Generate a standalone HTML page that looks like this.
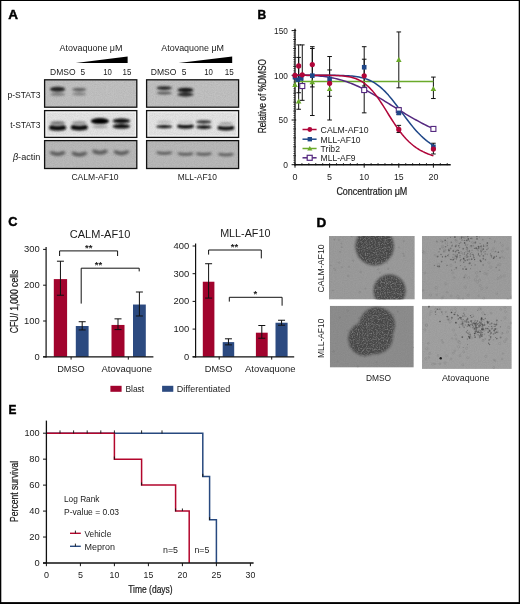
<!DOCTYPE html>
<html lang="en"><head><meta charset="utf-8"><title>Figure</title>
<style>html,body{margin:0;padding:0;background:#fff}body{width:520px;height:604px;overflow:hidden}svg{display:block}text{font-family:"Liberation Sans", sans-serif;}</style>
</head><body>
<svg width="520" height="604" viewBox="0 0 520 604" font-family='"Liberation Sans", sans-serif'>
<defs>
<filter id="b1" filterUnits="userSpaceOnUse" x="0" y="0" width="520" height="604"><feGaussianBlur stdDeviation="1.3 0.8"/></filter>
<filter id="b2" filterUnits="userSpaceOnUse" x="0" y="0" width="520" height="604"><feGaussianBlur stdDeviation="1.6 1.0"/></filter>
<filter id="col" x="-10%" y="-10%" width="120%" height="120%"><feGaussianBlur stdDeviation="1.1" result="bl"/><feTurbulence type="fractalNoise" baseFrequency="0.8" numOctaves="2" seed="11" result="n"/><feColorMatrix in="n" type="matrix" values="0 0 0 0 0.37  0 0 0 0 0.37  0 0 0 0 0.37  1.3 0 0 0 -0.66" result="sp"/><feComposite in="sp" in2="bl" operator="in" result="sp2"/><feColorMatrix in="n" type="matrix" values="0 0 0 0 0.2  0 0 0 0 0.2  0 0 0 0 0.2  0 -1.6 0 0 0.85" result="dk"/><feComposite in="dk" in2="bl" operator="in" result="dk2"/><feMerge><feMergeNode in="bl"/><feMergeNode in="sp2"/><feMergeNode in="dk2"/></feMerge></filter>
<filter id="db" x="-5%" y="-5%" width="110%" height="110%"><feGaussianBlur stdDeviation="0.45"/></filter>
<filter id="grain" x="0" y="0" width="100%" height="100%"><feTurbulence type="fractalNoise" baseFrequency="0.9" numOctaves="2" seed="3" result="n"/><feColorMatrix in="n" type="matrix" values="0 0 0 0 0  0 0 0 0 0  0 0 0 0 0  0.9 0.9 0.9 0 -1.05"/><feComposite in2="SourceGraphic" operator="in"/></filter>
</defs>
<rect x="0" y="0" width="520" height="604" fill="#fff"/>
<text x="8.20" y="19.30" font-size="13.5" font-weight="bold" fill="#000" stroke="#000" stroke-width="0.45">A</text>
<text x="257.40" y="18.50" font-size="13.5" textLength="8.70" lengthAdjust="spacingAndGlyphs" font-weight="bold" fill="#000" stroke="#000" stroke-width="0.45">B</text>
<text x="8.20" y="226.20" font-size="13.5" textLength="9.20" lengthAdjust="spacingAndGlyphs" font-weight="bold" fill="#000" stroke="#000" stroke-width="0.45">C</text>
<text x="316.40" y="226.50" font-size="13.5" font-weight="bold" fill="#000" stroke="#000" stroke-width="0.45">D</text>
<text x="8.60" y="413.60" font-size="13.5" textLength="7.90" lengthAdjust="spacingAndGlyphs" font-weight="bold" fill="#000" stroke="#000" stroke-width="0.45">E</text>
<rect x="44.60" y="79.80" width="92.20" height="27.40" fill="#c1c1c1"/>
<rect x="44.60" y="79.80" width="92.20" height="27.40" fill="#000" filter="url(#grain)" opacity="0.07"/>
<rect x="44.60" y="79.80" width="92.20" height="27.40" fill="none" stroke="#111" stroke-width="1.3"/>
<rect x="44.60" y="110.60" width="92.20" height="26.80" fill="#e4e4e4"/>
<rect x="44.60" y="110.60" width="92.20" height="26.80" fill="#000" filter="url(#grain)" opacity="0.07"/>
<rect x="45.90" y="111.90" width="89.60" height="24.20" fill="none" stroke="#f6f6f6" stroke-width="1.4" opacity="0.8"/>
<rect x="44.60" y="110.60" width="92.20" height="26.80" fill="none" stroke="#111" stroke-width="1.3"/>
<rect x="44.60" y="140.60" width="92.20" height="27.90" fill="#b9b9b9"/>
<rect x="44.60" y="140.60" width="92.20" height="27.90" fill="#000" filter="url(#grain)" opacity="0.07"/>
<rect x="44.60" y="140.60" width="92.20" height="27.90" fill="none" stroke="#111" stroke-width="1.3"/>
<g filter="url(#b1)">
<ellipse cx="57.60" cy="89.20" rx="7.60" ry="2.50" fill="#1a1a1a" fill-opacity="0.97"/>
<ellipse cx="57.60" cy="94.20" rx="7.50" ry="1.50" fill="#444" fill-opacity="0.6"/>
<ellipse cx="79.30" cy="89.60" rx="7.00" ry="1.80" fill="#333" fill-opacity="0.65"/>
<ellipse cx="79.30" cy="94.00" rx="7.00" ry="1.40" fill="#444" fill-opacity="0.5"/>
</g>
<g filter="url(#b1)">
<ellipse cx="57.60" cy="122.90" rx="7.50" ry="2.00" fill="#444" fill-opacity="0.65"/>
<path d="M51.50,127.60 Q57.60,129.00 63.70,127.60" fill="none" stroke="#0c0c0c" stroke-opacity="1" stroke-width="4.80" stroke-linecap="round"/>
<ellipse cx="79.30" cy="122.70" rx="7.50" ry="1.80" fill="#555" fill-opacity="0.55"/>
<path d="M73.20,127.40 Q79.30,128.80 85.40,127.40" fill="none" stroke="#0c0c0c" stroke-opacity="1" stroke-width="4.80" stroke-linecap="round"/>
<ellipse cx="99.90" cy="121.10" rx="9.20" ry="3.00" fill="#060606" fill-opacity="1"/>
<ellipse cx="99.90" cy="126.70" rx="8.00" ry="1.50" fill="#666" fill-opacity="0.55"/>
<ellipse cx="121.40" cy="120.90" rx="8.80" ry="2.30" fill="#0c0c0c" fill-opacity="1"/>
<ellipse cx="121.40" cy="126.30" rx="8.80" ry="2.30" fill="#0c0c0c" fill-opacity="1"/>
</g>
<g filter="url(#b2)">
<path d="M52.00,152.80 Q57.60,155.60 63.20,152.80" fill="none" stroke="#484848" stroke-opacity="0.78" stroke-width="4.00" stroke-linecap="round"/>
<path d="M73.70,153.40 Q79.30,156.20 84.90,153.40" fill="none" stroke="#484848" stroke-opacity="0.78" stroke-width="4.00" stroke-linecap="round"/>
<path d="M94.30,151.40 Q99.90,154.20 105.50,151.40" fill="none" stroke="#484848" stroke-opacity="0.78" stroke-width="4.00" stroke-linecap="round"/>
<path d="M115.80,152.00 Q121.40,154.80 127.00,152.00" fill="none" stroke="#484848" stroke-opacity="0.78" stroke-width="4.00" stroke-linecap="round"/>
</g>
<rect x="146.60" y="79.80" width="92.00" height="27.40" fill="#c1c1c1"/>
<rect x="146.60" y="79.80" width="92.00" height="27.40" fill="#000" filter="url(#grain)" opacity="0.07"/>
<rect x="146.60" y="79.80" width="92.00" height="27.40" fill="none" stroke="#111" stroke-width="1.3"/>
<rect x="146.60" y="110.60" width="92.00" height="26.80" fill="#e4e4e4"/>
<rect x="146.60" y="110.60" width="92.00" height="26.80" fill="#000" filter="url(#grain)" opacity="0.07"/>
<rect x="147.90" y="111.90" width="89.40" height="24.20" fill="none" stroke="#f6f6f6" stroke-width="1.4" opacity="0.8"/>
<rect x="146.60" y="110.60" width="92.00" height="26.80" fill="none" stroke="#111" stroke-width="1.3"/>
<rect x="146.60" y="140.60" width="92.00" height="27.90" fill="#b9b9b9"/>
<rect x="146.60" y="140.60" width="92.00" height="27.90" fill="#000" filter="url(#grain)" opacity="0.07"/>
<rect x="146.60" y="140.60" width="92.00" height="27.90" fill="none" stroke="#111" stroke-width="1.3"/>
<g filter="url(#b1)">
<ellipse cx="164.20" cy="88.10" rx="7.60" ry="1.80" fill="#1c1c1c" fill-opacity="0.95"/>
<ellipse cx="164.20" cy="93.10" rx="7.60" ry="1.40" fill="#333" fill-opacity="0.75"/>
<ellipse cx="185.50" cy="90.00" rx="8.20" ry="2.20" fill="#141414" fill-opacity="1"/>
<ellipse cx="185.50" cy="94.50" rx="8.00" ry="1.90" fill="#1a1a1a" fill-opacity="0.95"/>
</g>
<g filter="url(#b1)">
<ellipse cx="164.20" cy="121.90" rx="7.50" ry="1.40" fill="#888" fill-opacity="0.45"/>
<ellipse cx="164.20" cy="126.60" rx="8.00" ry="1.70" fill="#0c0c0c" fill-opacity="1"/>
<ellipse cx="185.50" cy="122.00" rx="7.50" ry="1.30" fill="#888" fill-opacity="0.35"/>
<path d="M179.10,126.30 Q185.50,127.50 191.90,126.30" fill="none" stroke="#0c0c0c" stroke-opacity="1" stroke-width="3.60" stroke-linecap="round"/>
<ellipse cx="203.80" cy="121.90" rx="7.60" ry="1.70" fill="#1c1c1c" fill-opacity="0.95"/>
<ellipse cx="203.80" cy="127.10" rx="7.80" ry="1.80" fill="#101010" fill-opacity="1"/>
<ellipse cx="225.90" cy="123.40" rx="7.00" ry="1.40" fill="#666" fill-opacity="0.55"/>
<path d="M219.40,127.80 Q225.90,129.20 232.40,127.80" fill="none" stroke="#0c0c0c" stroke-opacity="1" stroke-width="3.80" stroke-linecap="round"/>
</g>
<g filter="url(#b2)">
<path d="M158.20,152.70 Q164.20,154.10 170.20,152.70" fill="none" stroke="#484848" stroke-opacity="0.75" stroke-width="3.20" stroke-linecap="round"/>
<path d="M179.50,153.70 Q185.50,155.10 191.50,153.70" fill="none" stroke="#484848" stroke-opacity="0.75" stroke-width="3.20" stroke-linecap="round"/>
<path d="M197.80,153.70 Q203.80,155.10 209.80,153.70" fill="none" stroke="#484848" stroke-opacity="0.75" stroke-width="3.20" stroke-linecap="round"/>
<path d="M219.90,154.30 Q225.90,155.70 231.90,154.30" fill="none" stroke="#484848" stroke-opacity="0.75" stroke-width="3.20" stroke-linecap="round"/>
</g>
<text x="59.50" y="51.20" font-size="9.7" textLength="63.00" lengthAdjust="spacingAndGlyphs" fill="#1a1a1a" >Atovaquone &#956;M</text>
<text x="161.30" y="51.20" font-size="9.7" textLength="62.70" lengthAdjust="spacingAndGlyphs" fill="#1a1a1a" >Atovaquone &#956;M</text>
<polygon points="75.8,63.1 127.6,63.1 127.6,56.5" fill="#000"/>
<polygon points="178.6,63.1 232.2,63.1 232.2,56.5" fill="#000"/>
<text x="50.00" y="74.50" font-size="9.7" textLength="25.50" lengthAdjust="spacingAndGlyphs" fill="#1a1a1a" >DMSO</text>
<text x="80.50" y="74.50" font-size="9.7" textLength="4.60" lengthAdjust="spacingAndGlyphs" fill="#1a1a1a" >5</text>
<text x="103.20" y="74.50" font-size="9.7" textLength="8.60" lengthAdjust="spacingAndGlyphs" fill="#1a1a1a" >10</text>
<text x="122.50" y="74.50" font-size="9.7" textLength="8.80" lengthAdjust="spacingAndGlyphs" fill="#1a1a1a" >15</text>
<text x="150.70" y="74.50" font-size="9.7" textLength="25.70" lengthAdjust="spacingAndGlyphs" fill="#1a1a1a" >DMSO</text>
<text x="181.70" y="74.50" font-size="9.7" textLength="4.70" lengthAdjust="spacingAndGlyphs" fill="#1a1a1a" >5</text>
<text x="204.20" y="74.50" font-size="9.7" textLength="8.70" lengthAdjust="spacingAndGlyphs" fill="#1a1a1a" >10</text>
<text x="224.80" y="74.50" font-size="9.7" textLength="9.00" lengthAdjust="spacingAndGlyphs" fill="#1a1a1a" >15</text>
<text x="40.40" y="97.80" font-size="9.7" text-anchor="end" textLength="32.90" lengthAdjust="spacingAndGlyphs" fill="#1a1a1a" >p-STAT3</text>
<text x="40.40" y="128.00" font-size="9.7" text-anchor="end" textLength="30.20" lengthAdjust="spacingAndGlyphs" fill="#1a1a1a" >t-STAT3</text>
<text x="12.9" y="159.9" font-size="9.7" fill="#1a1a1a" textLength="27.5" lengthAdjust="spacingAndGlyphs"><tspan font-style="italic">&#946;</tspan>-actin</text>
<text x="71.40" y="180.00" font-size="9.7" textLength="47.10" lengthAdjust="spacingAndGlyphs" fill="#1a1a1a" >CALM-AF10</text>
<text x="177.70" y="179.60" font-size="9.7" textLength="39.20" lengthAdjust="spacingAndGlyphs" fill="#1a1a1a" >MLL-AF10</text>
<line x1="295.00" y1="28.81" x2="295.00" y2="165.40" stroke="#111" stroke-width="1.35" />
<line x1="294.30" y1="164.70" x2="450.70" y2="164.70" stroke="#111" stroke-width="1.4" />
<line x1="291.60" y1="164.70" x2="296.20" y2="164.70" stroke="#111" stroke-width="1" />
<line x1="293.40" y1="162.46" x2="295.00" y2="162.46" stroke="#111" stroke-width="0.7" />
<line x1="293.40" y1="160.23" x2="295.00" y2="160.23" stroke="#111" stroke-width="0.7" />
<line x1="293.40" y1="157.99" x2="295.00" y2="157.99" stroke="#111" stroke-width="0.7" />
<line x1="293.00" y1="155.76" x2="296.00" y2="155.76" stroke="#111" stroke-width="0.8" />
<line x1="293.40" y1="153.52" x2="295.00" y2="153.52" stroke="#111" stroke-width="0.7" />
<line x1="293.40" y1="151.29" x2="295.00" y2="151.29" stroke="#111" stroke-width="0.7" />
<line x1="293.40" y1="149.05" x2="295.00" y2="149.05" stroke="#111" stroke-width="0.7" />
<line x1="293.00" y1="146.82" x2="296.00" y2="146.82" stroke="#111" stroke-width="0.8" />
<line x1="293.40" y1="144.58" x2="295.00" y2="144.58" stroke="#111" stroke-width="0.7" />
<line x1="293.40" y1="142.35" x2="295.00" y2="142.35" stroke="#111" stroke-width="0.7" />
<line x1="293.40" y1="140.11" x2="295.00" y2="140.11" stroke="#111" stroke-width="0.7" />
<line x1="293.00" y1="137.88" x2="296.00" y2="137.88" stroke="#111" stroke-width="0.8" />
<line x1="293.40" y1="135.64" x2="295.00" y2="135.64" stroke="#111" stroke-width="0.7" />
<line x1="293.40" y1="133.41" x2="295.00" y2="133.41" stroke="#111" stroke-width="0.7" />
<line x1="293.40" y1="131.17" x2="295.00" y2="131.17" stroke="#111" stroke-width="0.7" />
<line x1="293.00" y1="128.94" x2="296.00" y2="128.94" stroke="#111" stroke-width="0.8" />
<line x1="293.40" y1="126.70" x2="295.00" y2="126.70" stroke="#111" stroke-width="0.7" />
<line x1="293.40" y1="124.47" x2="295.00" y2="124.47" stroke="#111" stroke-width="0.7" />
<line x1="293.40" y1="122.23" x2="295.00" y2="122.23" stroke="#111" stroke-width="0.7" />
<line x1="291.60" y1="120.00" x2="296.20" y2="120.00" stroke="#111" stroke-width="1" />
<line x1="293.40" y1="117.76" x2="295.00" y2="117.76" stroke="#111" stroke-width="0.7" />
<line x1="293.40" y1="115.53" x2="295.00" y2="115.53" stroke="#111" stroke-width="0.7" />
<line x1="293.40" y1="113.29" x2="295.00" y2="113.29" stroke="#111" stroke-width="0.7" />
<line x1="293.00" y1="111.06" x2="296.00" y2="111.06" stroke="#111" stroke-width="0.8" />
<line x1="293.40" y1="108.82" x2="295.00" y2="108.82" stroke="#111" stroke-width="0.7" />
<line x1="293.40" y1="106.59" x2="295.00" y2="106.59" stroke="#111" stroke-width="0.7" />
<line x1="293.40" y1="104.35" x2="295.00" y2="104.35" stroke="#111" stroke-width="0.7" />
<line x1="293.00" y1="102.12" x2="296.00" y2="102.12" stroke="#111" stroke-width="0.8" />
<line x1="293.40" y1="99.88" x2="295.00" y2="99.88" stroke="#111" stroke-width="0.7" />
<line x1="293.40" y1="97.65" x2="295.00" y2="97.65" stroke="#111" stroke-width="0.7" />
<line x1="293.40" y1="95.41" x2="295.00" y2="95.41" stroke="#111" stroke-width="0.7" />
<line x1="293.00" y1="93.18" x2="296.00" y2="93.18" stroke="#111" stroke-width="0.8" />
<line x1="293.40" y1="90.94" x2="295.00" y2="90.94" stroke="#111" stroke-width="0.7" />
<line x1="293.40" y1="88.71" x2="295.00" y2="88.71" stroke="#111" stroke-width="0.7" />
<line x1="293.40" y1="86.47" x2="295.00" y2="86.47" stroke="#111" stroke-width="0.7" />
<line x1="293.00" y1="84.24" x2="296.00" y2="84.24" stroke="#111" stroke-width="0.8" />
<line x1="293.40" y1="82.00" x2="295.00" y2="82.00" stroke="#111" stroke-width="0.7" />
<line x1="293.40" y1="79.77" x2="295.00" y2="79.77" stroke="#111" stroke-width="0.7" />
<line x1="293.40" y1="77.53" x2="295.00" y2="77.53" stroke="#111" stroke-width="0.7" />
<line x1="291.60" y1="75.30" x2="296.20" y2="75.30" stroke="#111" stroke-width="1" />
<line x1="293.40" y1="73.06" x2="295.00" y2="73.06" stroke="#111" stroke-width="0.7" />
<line x1="293.40" y1="70.83" x2="295.00" y2="70.83" stroke="#111" stroke-width="0.7" />
<line x1="293.40" y1="68.59" x2="295.00" y2="68.59" stroke="#111" stroke-width="0.7" />
<line x1="293.00" y1="66.36" x2="296.00" y2="66.36" stroke="#111" stroke-width="0.8" />
<line x1="293.40" y1="64.12" x2="295.00" y2="64.12" stroke="#111" stroke-width="0.7" />
<line x1="293.40" y1="61.89" x2="295.00" y2="61.89" stroke="#111" stroke-width="0.7" />
<line x1="293.40" y1="59.65" x2="295.00" y2="59.65" stroke="#111" stroke-width="0.7" />
<line x1="293.00" y1="57.42" x2="296.00" y2="57.42" stroke="#111" stroke-width="0.8" />
<line x1="293.40" y1="55.18" x2="295.00" y2="55.18" stroke="#111" stroke-width="0.7" />
<line x1="293.40" y1="52.95" x2="295.00" y2="52.95" stroke="#111" stroke-width="0.7" />
<line x1="293.40" y1="50.71" x2="295.00" y2="50.71" stroke="#111" stroke-width="0.7" />
<line x1="293.00" y1="48.48" x2="296.00" y2="48.48" stroke="#111" stroke-width="0.8" />
<line x1="293.40" y1="46.24" x2="295.00" y2="46.24" stroke="#111" stroke-width="0.7" />
<line x1="293.40" y1="44.01" x2="295.00" y2="44.01" stroke="#111" stroke-width="0.7" />
<line x1="293.40" y1="41.77" x2="295.00" y2="41.77" stroke="#111" stroke-width="0.7" />
<line x1="293.00" y1="39.54" x2="296.00" y2="39.54" stroke="#111" stroke-width="0.8" />
<line x1="293.40" y1="37.30" x2="295.00" y2="37.30" stroke="#111" stroke-width="0.7" />
<line x1="293.40" y1="35.07" x2="295.00" y2="35.07" stroke="#111" stroke-width="0.7" />
<line x1="293.40" y1="32.83" x2="295.00" y2="32.83" stroke="#111" stroke-width="0.7" />
<line x1="291.60" y1="30.60" x2="296.20" y2="30.60" stroke="#111" stroke-width="1" />
<line x1="295.00" y1="163.20" x2="295.00" y2="167.70" stroke="#111" stroke-width="1" />
<line x1="301.92" y1="163.10" x2="301.92" y2="165.20" stroke="#111" stroke-width="0.9" />
<line x1="308.84" y1="163.10" x2="308.84" y2="165.20" stroke="#111" stroke-width="0.9" />
<line x1="315.76" y1="163.10" x2="315.76" y2="165.20" stroke="#111" stroke-width="0.9" />
<line x1="322.68" y1="163.10" x2="322.68" y2="165.20" stroke="#111" stroke-width="0.9" />
<line x1="329.60" y1="163.20" x2="329.60" y2="167.70" stroke="#111" stroke-width="1" />
<line x1="336.52" y1="163.10" x2="336.52" y2="165.20" stroke="#111" stroke-width="0.9" />
<line x1="343.44" y1="163.10" x2="343.44" y2="165.20" stroke="#111" stroke-width="0.9" />
<line x1="350.36" y1="163.10" x2="350.36" y2="165.20" stroke="#111" stroke-width="0.9" />
<line x1="357.28" y1="163.10" x2="357.28" y2="165.20" stroke="#111" stroke-width="0.9" />
<line x1="364.20" y1="163.20" x2="364.20" y2="167.70" stroke="#111" stroke-width="1" />
<line x1="371.12" y1="163.10" x2="371.12" y2="165.20" stroke="#111" stroke-width="0.9" />
<line x1="378.04" y1="163.10" x2="378.04" y2="165.20" stroke="#111" stroke-width="0.9" />
<line x1="384.96" y1="163.10" x2="384.96" y2="165.20" stroke="#111" stroke-width="0.9" />
<line x1="391.88" y1="163.10" x2="391.88" y2="165.20" stroke="#111" stroke-width="0.9" />
<line x1="398.80" y1="163.20" x2="398.80" y2="167.70" stroke="#111" stroke-width="1" />
<line x1="405.72" y1="163.10" x2="405.72" y2="165.20" stroke="#111" stroke-width="0.9" />
<line x1="412.64" y1="163.10" x2="412.64" y2="165.20" stroke="#111" stroke-width="0.9" />
<line x1="419.56" y1="163.10" x2="419.56" y2="165.20" stroke="#111" stroke-width="0.9" />
<line x1="426.48" y1="163.10" x2="426.48" y2="165.20" stroke="#111" stroke-width="0.9" />
<line x1="433.40" y1="163.20" x2="433.40" y2="167.70" stroke="#111" stroke-width="1" />
<line x1="440.32" y1="163.10" x2="440.32" y2="165.20" stroke="#111" stroke-width="0.9" />
<line x1="447.24" y1="163.10" x2="447.24" y2="165.20" stroke="#111" stroke-width="0.9" />
<line x1="298.67" y1="92.73" x2="298.67" y2="57.42" stroke="#111" stroke-width="1" />
<line x1="296.37" y1="92.73" x2="300.97" y2="92.73" stroke="#111" stroke-width="1" />
<line x1="296.37" y1="57.42" x2="300.97" y2="57.42" stroke="#111" stroke-width="1" />
<line x1="298.67" y1="109.27" x2="298.67" y2="44.90" stroke="#111" stroke-width="1" />
<line x1="296.37" y1="109.27" x2="300.97" y2="109.27" stroke="#111" stroke-width="1" />
<line x1="296.37" y1="44.90" x2="300.97" y2="44.90" stroke="#111" stroke-width="1" />
<line x1="302.27" y1="100.33" x2="302.27" y2="44.90" stroke="#111" stroke-width="1" />
<line x1="299.97" y1="100.33" x2="304.57" y2="100.33" stroke="#111" stroke-width="1" />
<line x1="299.97" y1="44.90" x2="304.57" y2="44.90" stroke="#111" stroke-width="1" />
<line x1="312.30" y1="115.53" x2="312.30" y2="46.69" stroke="#111" stroke-width="1" />
<line x1="310.00" y1="115.53" x2="314.60" y2="115.53" stroke="#111" stroke-width="1" />
<line x1="310.00" y1="46.69" x2="314.60" y2="46.69" stroke="#111" stroke-width="1" />
<line x1="312.30" y1="86.92" x2="312.30" y2="48.48" stroke="#111" stroke-width="1" />
<line x1="310.00" y1="86.92" x2="314.60" y2="86.92" stroke="#111" stroke-width="1" />
<line x1="310.00" y1="48.48" x2="314.60" y2="48.48" stroke="#111" stroke-width="1" />
<line x1="329.60" y1="120.00" x2="329.60" y2="56.53" stroke="#111" stroke-width="1" />
<line x1="327.30" y1="120.00" x2="331.90" y2="120.00" stroke="#111" stroke-width="1" />
<line x1="327.30" y1="56.53" x2="331.90" y2="56.53" stroke="#111" stroke-width="1" />
<line x1="329.60" y1="96.31" x2="329.60" y2="69.94" stroke="#111" stroke-width="1" />
<line x1="327.30" y1="96.31" x2="331.90" y2="96.31" stroke="#111" stroke-width="1" />
<line x1="327.30" y1="69.94" x2="331.90" y2="69.94" stroke="#111" stroke-width="1" />
<line x1="364.20" y1="112.85" x2="364.20" y2="46.69" stroke="#111" stroke-width="1" />
<line x1="361.90" y1="112.85" x2="366.50" y2="112.85" stroke="#111" stroke-width="1" />
<line x1="361.90" y1="46.69" x2="366.50" y2="46.69" stroke="#111" stroke-width="1" />
<line x1="364.20" y1="86.03" x2="364.20" y2="59.21" stroke="#111" stroke-width="1" />
<line x1="361.90" y1="86.03" x2="366.50" y2="86.03" stroke="#111" stroke-width="1" />
<line x1="361.90" y1="59.21" x2="366.50" y2="59.21" stroke="#111" stroke-width="1" />
<line x1="398.80" y1="87.82" x2="398.80" y2="31.94" stroke="#111" stroke-width="1" />
<line x1="396.50" y1="87.82" x2="401.10" y2="87.82" stroke="#111" stroke-width="1" />
<line x1="396.50" y1="31.94" x2="401.10" y2="31.94" stroke="#111" stroke-width="1" />
<line x1="398.80" y1="132.52" x2="398.80" y2="125.36" stroke="#111" stroke-width="1" />
<line x1="396.50" y1="132.52" x2="401.10" y2="132.52" stroke="#111" stroke-width="1" />
<line x1="396.50" y1="125.36" x2="401.10" y2="125.36" stroke="#111" stroke-width="1" />
<line x1="398.80" y1="114.64" x2="398.80" y2="107.48" stroke="#111" stroke-width="1" />
<line x1="396.50" y1="114.64" x2="401.10" y2="114.64" stroke="#111" stroke-width="1" />
<line x1="396.50" y1="107.48" x2="401.10" y2="107.48" stroke="#111" stroke-width="1" />
<line x1="433.40" y1="98.54" x2="433.40" y2="77.09" stroke="#111" stroke-width="1" />
<line x1="431.10" y1="98.54" x2="435.70" y2="98.54" stroke="#111" stroke-width="1" />
<line x1="431.10" y1="77.09" x2="435.70" y2="77.09" stroke="#111" stroke-width="1" />
<line x1="433.40" y1="153.97" x2="433.40" y2="143.24" stroke="#111" stroke-width="1" />
<line x1="431.10" y1="153.97" x2="435.70" y2="153.97" stroke="#111" stroke-width="1" />
<line x1="431.10" y1="143.24" x2="435.70" y2="143.24" stroke="#111" stroke-width="1" />
<polyline points="295.00,81.56 296.73,81.56 298.46,81.56 300.19,81.56 301.92,81.56 303.65,81.56 305.38,81.56 307.11,81.56 308.84,81.56 310.57,81.56 312.30,81.56 314.03,81.56 315.76,81.56 317.49,81.56 319.22,81.56 320.95,81.56 322.68,81.56 324.41,81.56 326.14,81.56 327.87,81.56 329.60,81.56 331.33,81.56 333.06,81.56 334.79,81.56 336.52,81.56 338.25,81.56 339.98,81.56 341.71,81.56 343.44,81.56 345.17,81.56 346.90,81.56 348.63,81.56 350.36,81.56 352.09,81.56 353.82,81.56 355.55,81.56 357.28,81.56 359.01,81.56 360.74,81.56 362.47,81.56 364.20,81.56 365.93,81.56 367.66,81.56 369.39,81.56 371.12,81.56 372.85,81.56 374.58,81.56 376.31,81.56 378.04,81.56 379.77,81.56 381.50,81.56 383.23,81.56 384.96,81.56 386.69,81.56 388.42,81.56 390.15,81.56 391.88,81.56 393.61,81.56 395.34,81.56 397.07,81.56 398.80,81.56 400.53,81.56 402.26,81.56 403.99,81.56 405.72,81.56 407.45,81.56 409.18,81.56 410.91,81.56 412.64,81.56 414.37,81.56 416.10,81.56 417.83,81.56 419.56,81.56 421.29,81.56 423.02,81.56 424.75,81.56 426.48,81.56 428.21,81.56 429.94,81.56 431.67,81.56 433.40,81.56" fill="none" stroke="#6aaa2a" stroke-width="1.4" stroke-linejoin="round"/>
<polyline points="295.00,75.30 296.73,75.30 298.46,75.30 300.19,75.31 301.92,75.32 303.65,75.33 305.38,75.36 307.11,75.39 308.84,75.43 310.57,75.49 312.30,75.56 314.03,75.65 315.76,75.75 317.49,75.87 319.22,76.01 320.95,76.17 322.68,76.35 324.41,76.56 326.14,76.79 327.87,77.05 329.60,77.34 331.33,77.65 333.06,77.99 334.79,78.36 336.52,78.76 338.25,79.20 339.98,79.66 341.71,80.15 343.44,80.68 345.17,81.23 346.90,81.82 348.63,82.44 350.36,83.10 352.09,83.78 353.82,84.49 355.55,85.23 357.28,86.00 359.01,86.80 360.74,87.63 362.47,88.48 364.20,89.36 365.93,90.26 367.66,91.18 369.39,92.12 371.12,93.09 372.85,94.07 374.58,95.06 376.31,96.07 378.04,97.10 379.77,98.13 381.50,99.18 383.23,100.23 384.96,101.29 386.69,102.36 388.42,103.43 390.15,104.50 391.88,105.57 393.61,106.65 395.34,107.72 397.07,108.78 398.80,109.84 400.53,110.90 402.26,111.95 403.99,112.99 405.72,114.03 407.45,115.05 409.18,116.06 410.91,117.07 412.64,118.06 414.37,119.04 416.10,120.00 417.83,120.95 419.56,121.89 421.29,122.81 423.02,123.72 424.75,124.61 426.48,125.49 428.21,126.35 429.94,127.19 431.67,128.02 433.40,128.84" fill="none" stroke="#54287f" stroke-width="1.5" stroke-linejoin="round"/>
<polyline points="295.00,75.30 296.73,75.30 298.46,75.30 300.19,75.30 301.92,75.30 303.65,75.30 305.38,75.30 307.11,75.30 308.84,75.30 310.57,75.30 312.30,75.30 314.03,75.30 315.76,75.30 317.49,75.30 319.22,75.30 320.95,75.30 322.68,75.31 324.41,75.31 326.14,75.31 327.87,75.32 329.60,75.32 331.33,75.33 333.06,75.35 334.79,75.37 336.52,75.39 338.25,75.42 339.98,75.45 341.71,75.50 343.44,75.56 345.17,75.63 346.90,75.72 348.63,75.83 350.36,75.96 352.09,76.12 353.82,76.30 355.55,76.52 357.28,76.79 359.01,77.09 360.74,77.45 362.47,77.87 364.20,78.35 365.93,78.90 367.66,79.53 369.39,80.24 371.12,81.05 372.85,81.95 374.58,82.96 376.31,84.07 378.04,85.30 379.77,86.65 381.50,88.11 383.23,89.69 384.96,91.39 386.69,93.20 388.42,95.12 390.15,97.14 391.88,99.25 393.61,101.43 395.34,103.69 397.07,105.99 398.80,108.33 400.53,110.70 402.26,113.07 403.99,115.43 405.72,117.76 407.45,120.07 409.18,122.32 410.91,124.52 412.64,126.64 414.37,128.69 416.10,130.66 417.83,132.55 419.56,134.34 421.29,136.05 423.02,137.66 424.75,139.18 426.48,140.62 428.21,141.96 429.94,143.22 431.67,144.40 433.40,145.51" fill="none" stroke="#1f4788" stroke-width="1.5" stroke-linejoin="round"/>
<polyline points="295.00,75.30 296.73,75.30 298.46,75.30 300.19,75.30 301.92,75.30 303.65,75.30 305.38,75.30 307.11,75.30 308.84,75.30 310.57,75.30 312.30,75.30 314.03,75.30 315.76,75.30 317.49,75.30 319.22,75.31 320.95,75.31 322.68,75.31 324.41,75.32 326.14,75.33 327.87,75.35 329.60,75.37 331.33,75.39 333.06,75.43 334.79,75.48 336.52,75.54 338.25,75.62 339.98,75.72 341.71,75.85 343.44,76.01 345.17,76.20 346.90,76.44 348.63,76.73 350.36,77.08 352.09,77.49 353.82,77.99 355.55,78.57 357.28,79.25 359.01,80.04 360.74,80.95 362.47,81.99 364.20,83.17 365.93,84.49 367.66,85.97 369.39,87.61 371.12,89.41 372.85,91.37 374.58,93.48 376.31,95.74 378.04,98.13 379.77,100.64 381.50,103.25 383.23,105.94 384.96,108.68 386.69,111.46 388.42,114.24 390.15,117.01 391.88,119.75 393.61,122.42 395.34,125.03 397.07,127.54 398.80,129.95 400.53,132.25 402.26,134.44 403.99,136.50 405.72,138.44 407.45,140.25 409.18,141.95 410.91,143.53 412.64,144.99 414.37,146.35 416.10,147.60 417.83,148.75 419.56,149.82 421.29,150.79 423.02,151.69 424.75,152.52 426.48,153.27 428.21,153.97 429.94,154.60 431.67,155.19 433.40,155.72" fill="none" stroke="#b0063a" stroke-width="1.5" stroke-linejoin="round"/>
<polygon points="295.00,81.89 292.20,86.93 297.80,86.93" fill="#6aaa2a"/>
<polygon points="298.67,98.43 295.87,103.47 301.47,103.47" fill="#6aaa2a"/>
<polygon points="312.30,79.20 309.50,84.24 315.10,84.24" fill="#6aaa2a"/>
<polygon points="329.60,85.91 326.80,90.95 332.40,90.95" fill="#6aaa2a"/>
<polygon points="398.80,56.85 396.00,61.89 401.60,61.89" fill="#6aaa2a"/>
<polygon points="433.40,85.91 430.60,90.95 436.20,90.95" fill="#6aaa2a"/>
<rect x="299.77" y="83.53" width="5.0" height="5.0" fill="#fff" stroke="#54287f" stroke-width="1.1"/>
<rect x="361.70" y="87.55" width="5.0" height="5.0" fill="#fff" stroke="#54287f" stroke-width="1.1"/>
<rect x="396.30" y="107.67" width="5.0" height="5.0" fill="#fff" stroke="#54287f" stroke-width="1.1"/>
<rect x="430.90" y="126.44" width="5.0" height="5.0" fill="#fff" stroke="#54287f" stroke-width="1.1"/>
<rect x="292.70" y="74.79" width="4.6" height="4.6" fill="#1f4788"/>
<rect x="295.47" y="77.47" width="4.6" height="4.6" fill="#1f4788"/>
<rect x="298.93" y="76.13" width="4.6" height="4.6" fill="#1f4788"/>
<rect x="310.00" y="73.36" width="4.6" height="4.6" fill="#1f4788"/>
<rect x="327.30" y="76.58" width="4.6" height="4.6" fill="#1f4788"/>
<rect x="361.90" y="64.95" width="4.6" height="4.6" fill="#1f4788"/>
<rect x="396.50" y="110.55" width="4.6" height="4.6" fill="#1f4788"/>
<rect x="431.10" y="144.52" width="4.6" height="4.6" fill="#1f4788"/>
<circle cx="295.00" cy="75.30" r="2.6" fill="#b0063a"/>
<circle cx="298.67" cy="65.91" r="2.6" fill="#b0063a"/>
<circle cx="302.27" cy="74.85" r="2.6" fill="#b0063a"/>
<circle cx="312.30" cy="64.57" r="2.6" fill="#b0063a"/>
<circle cx="329.60" cy="83.35" r="2.6" fill="#b0063a"/>
<circle cx="364.20" cy="75.75" r="2.6" fill="#b0063a"/>
<circle cx="398.80" cy="129.39" r="2.6" fill="#b0063a"/>
<circle cx="433.40" cy="149.05" r="2.6" fill="#b0063a"/>
<text x="287.90" y="33.80" font-size="9" text-anchor="end" textLength="13.80" lengthAdjust="spacingAndGlyphs" fill="#1a1a1a" >150</text>
<text x="287.90" y="78.50" font-size="9" text-anchor="end" textLength="13.80" lengthAdjust="spacingAndGlyphs" fill="#1a1a1a" >100</text>
<text x="287.90" y="123.20" font-size="9" text-anchor="end" textLength="9.30" lengthAdjust="spacingAndGlyphs" fill="#1a1a1a" >50</text>
<text x="287.90" y="167.90" font-size="9" text-anchor="end" textLength="4.70" lengthAdjust="spacingAndGlyphs" fill="#1a1a1a" >0</text>
<text x="295.00" y="180.00" font-size="9.8" text-anchor="middle" textLength="5.00" lengthAdjust="spacingAndGlyphs" fill="#1a1a1a" >0</text>
<text x="329.60" y="180.00" font-size="9.8" text-anchor="middle" textLength="5.00" lengthAdjust="spacingAndGlyphs" fill="#1a1a1a" >5</text>
<text x="364.20" y="180.00" font-size="9.8" text-anchor="middle" textLength="9.70" lengthAdjust="spacingAndGlyphs" fill="#1a1a1a" >10</text>
<text x="398.80" y="180.00" font-size="9.8" text-anchor="middle" textLength="9.70" lengthAdjust="spacingAndGlyphs" fill="#1a1a1a" >15</text>
<text x="433.40" y="180.00" font-size="9.8" text-anchor="middle" textLength="9.90" lengthAdjust="spacingAndGlyphs" fill="#1a1a1a" >20</text>
<text x="336.40" y="194.70" font-size="10.8" textLength="70.90" lengthAdjust="spacingAndGlyphs" fill="#1a1a1a" stroke="#1a1a1a" stroke-width="0.22">Concentration &#956;M</text>
<text x="265.90" y="96.10" font-size="10.8" text-anchor="middle" textLength="74.50" lengthAdjust="spacingAndGlyphs" fill="#1a1a1a" transform="rotate(-90 265.90 96.10)" stroke="#1a1a1a" stroke-width="0.22">Relative of %DMSO</text>
<line x1="302.50" y1="129.50" x2="316.60" y2="129.50" stroke="#b0063a" stroke-width="1.5" />
<line x1="302.50" y1="139.20" x2="316.60" y2="139.20" stroke="#1f4788" stroke-width="1.5" />
<line x1="302.50" y1="148.50" x2="316.60" y2="148.50" stroke="#6aaa2a" stroke-width="1.5" />
<line x1="302.50" y1="157.80" x2="316.60" y2="157.80" stroke="#54287f" stroke-width="1.5" />
<circle cx="309.8" cy="129.5" r="2.4" fill="#b0063a"/>
<rect x="307.6" y="137.0" width="4.4" height="4.4" fill="#1f4788"/>
<polygon points="309.8,145.9 307.2,150.5 312.4,150.5" fill="#6aaa2a"/>
<rect x="307.2" y="155.3" width="5" height="5" fill="#fff" stroke="#54287f" stroke-width="1.2"/>
<text x="320.60" y="132.80" font-size="9.6" textLength="47.90" lengthAdjust="spacingAndGlyphs" fill="#1a1a1a" >CALM-AF10</text>
<text x="320.60" y="142.50" font-size="9.6" textLength="39.80" lengthAdjust="spacingAndGlyphs" fill="#1a1a1a" >MLL-AF10</text>
<text x="320.60" y="151.80" font-size="9.6" textLength="19.40" lengthAdjust="spacingAndGlyphs" fill="#1a1a1a" >Trib2</text>
<text x="320.60" y="161.10" font-size="9.6" textLength="35.00" lengthAdjust="spacingAndGlyphs" fill="#1a1a1a" >MLL-AF9</text>
<rect x="53.80" y="279.11" width="13.30" height="77.69" fill="#a1032d"/>
<rect x="75.80" y="326.01" width="12.80" height="30.79" fill="#2c4a80"/>
<rect x="111.50" y="324.94" width="13.00" height="31.86" fill="#a1032d"/>
<rect x="133.00" y="304.53" width="12.80" height="52.27" fill="#2c4a80"/>
<line x1="60.45" y1="295.22" x2="60.45" y2="261.21" stroke="#111" stroke-width="1" />
<line x1="56.95" y1="295.22" x2="63.95" y2="295.22" stroke="#111" stroke-width="1" />
<line x1="56.95" y1="261.21" x2="63.95" y2="261.21" stroke="#111" stroke-width="1" />
<line x1="82.20" y1="329.95" x2="82.20" y2="321.72" stroke="#111" stroke-width="1" />
<line x1="78.70" y1="329.95" x2="85.70" y2="329.95" stroke="#111" stroke-width="1" />
<line x1="78.70" y1="321.72" x2="85.70" y2="321.72" stroke="#111" stroke-width="1" />
<line x1="118.00" y1="329.59" x2="118.00" y2="318.85" stroke="#111" stroke-width="1" />
<line x1="114.50" y1="329.59" x2="121.50" y2="329.59" stroke="#111" stroke-width="1" />
<line x1="114.50" y1="318.85" x2="121.50" y2="318.85" stroke="#111" stroke-width="1" />
<line x1="139.40" y1="315.99" x2="139.40" y2="292.00" stroke="#111" stroke-width="1" />
<line x1="135.90" y1="315.99" x2="142.90" y2="315.99" stroke="#111" stroke-width="1" />
<line x1="135.90" y1="292.00" x2="142.90" y2="292.00" stroke="#111" stroke-width="1" />
<line x1="46.10" y1="246.90" x2="46.10" y2="357.40" stroke="#111" stroke-width="1.2" />
<line x1="43.10" y1="356.80" x2="153.40" y2="356.80" stroke="#111" stroke-width="1.2" />
<line x1="43.10" y1="356.80" x2="46.10" y2="356.80" stroke="#111" stroke-width="1" />
<text x="39.70" y="359.70" font-size="9.5" text-anchor="end" textLength="5.20" lengthAdjust="spacingAndGlyphs" fill="#1a1a1a" >0</text>
<line x1="43.10" y1="321.00" x2="46.10" y2="321.00" stroke="#111" stroke-width="1" />
<text x="39.70" y="323.90" font-size="9.5" text-anchor="end" textLength="15.70" lengthAdjust="spacingAndGlyphs" fill="#1a1a1a" >100</text>
<line x1="43.10" y1="285.20" x2="46.10" y2="285.20" stroke="#111" stroke-width="1" />
<text x="39.70" y="288.10" font-size="9.5" text-anchor="end" textLength="15.70" lengthAdjust="spacingAndGlyphs" fill="#1a1a1a" >200</text>
<line x1="43.10" y1="249.40" x2="46.10" y2="249.40" stroke="#111" stroke-width="1" />
<text x="39.70" y="252.30" font-size="9.5" text-anchor="end" textLength="15.70" lengthAdjust="spacingAndGlyphs" fill="#1a1a1a" >300</text>
<line x1="71.10" y1="356.80" x2="71.10" y2="359.60" stroke="#111" stroke-width="1" />
<line x1="128.30" y1="356.80" x2="128.30" y2="359.60" stroke="#111" stroke-width="1" />
<rect x="202.80" y="281.73" width="11.60" height="75.07" fill="#a1032d"/>
<rect x="222.70" y="342.12" width="11.50" height="14.68" fill="#2c4a80"/>
<rect x="255.90" y="332.70" width="11.80" height="24.10" fill="#a1032d"/>
<rect x="275.50" y="322.73" width="12.10" height="34.07" fill="#2c4a80"/>
<line x1="208.60" y1="298.08" x2="208.60" y2="263.73" stroke="#111" stroke-width="1" />
<line x1="205.10" y1="298.08" x2="212.10" y2="298.08" stroke="#111" stroke-width="1" />
<line x1="205.10" y1="263.73" x2="212.10" y2="263.73" stroke="#111" stroke-width="1" />
<line x1="228.45" y1="344.89" x2="228.45" y2="338.80" stroke="#111" stroke-width="1" />
<line x1="224.95" y1="344.89" x2="231.95" y2="344.89" stroke="#111" stroke-width="1" />
<line x1="224.95" y1="338.80" x2="231.95" y2="338.80" stroke="#111" stroke-width="1" />
<line x1="261.80" y1="338.24" x2="261.80" y2="325.50" stroke="#111" stroke-width="1" />
<line x1="258.30" y1="338.24" x2="265.30" y2="338.24" stroke="#111" stroke-width="1" />
<line x1="258.30" y1="325.50" x2="265.30" y2="325.50" stroke="#111" stroke-width="1" />
<line x1="281.55" y1="325.22" x2="281.55" y2="320.24" stroke="#111" stroke-width="1" />
<line x1="278.05" y1="325.22" x2="285.05" y2="325.22" stroke="#111" stroke-width="1" />
<line x1="278.05" y1="320.24" x2="285.05" y2="320.24" stroke="#111" stroke-width="1" />
<line x1="195.60" y1="243.50" x2="195.60" y2="357.40" stroke="#111" stroke-width="1.2" />
<line x1="192.60" y1="356.80" x2="294.20" y2="356.80" stroke="#111" stroke-width="1.2" />
<line x1="192.60" y1="356.80" x2="195.60" y2="356.80" stroke="#111" stroke-width="1" />
<text x="189.20" y="359.70" font-size="9.5" text-anchor="end" textLength="5.20" lengthAdjust="spacingAndGlyphs" fill="#1a1a1a" >0</text>
<line x1="192.60" y1="329.10" x2="195.60" y2="329.10" stroke="#111" stroke-width="1" />
<text x="189.20" y="332.00" font-size="9.5" text-anchor="end" textLength="15.70" lengthAdjust="spacingAndGlyphs" fill="#1a1a1a" >100</text>
<line x1="192.60" y1="301.40" x2="195.60" y2="301.40" stroke="#111" stroke-width="1" />
<text x="189.20" y="304.30" font-size="9.5" text-anchor="end" textLength="15.70" lengthAdjust="spacingAndGlyphs" fill="#1a1a1a" >200</text>
<line x1="192.60" y1="273.70" x2="195.60" y2="273.70" stroke="#111" stroke-width="1" />
<text x="189.20" y="276.60" font-size="9.5" text-anchor="end" textLength="15.70" lengthAdjust="spacingAndGlyphs" fill="#1a1a1a" >300</text>
<line x1="192.60" y1="246.00" x2="195.60" y2="246.00" stroke="#111" stroke-width="1" />
<text x="189.20" y="248.90" font-size="9.5" text-anchor="end" textLength="15.70" lengthAdjust="spacingAndGlyphs" fill="#1a1a1a" >400</text>
<line x1="219.20" y1="356.80" x2="219.20" y2="359.60" stroke="#111" stroke-width="1" />
<line x1="271.70" y1="356.80" x2="271.70" y2="359.60" stroke="#111" stroke-width="1" />
<polyline points="59.60,256.00 59.60,250.90 117.60,250.90 117.60,256.00" fill="none" stroke="#111" stroke-width="1"/>
<polyline points="81.20,303.60 81.20,268.20 139.20,268.20 139.20,271.40" fill="none" stroke="#111" stroke-width="1"/>
<polyline points="208.60,254.60 208.60,250.00 261.30,250.00 261.30,258.40" fill="none" stroke="#111" stroke-width="1"/>
<polyline points="229.30,301.60 229.30,297.30 282.10,297.30 282.10,305.70" fill="none" stroke="#111" stroke-width="1"/>
<text x="88.70" y="251.00" font-size="9.5" text-anchor="middle" font-weight="bold" fill="#1a1a1a" >**</text>
<text x="98.50" y="268.40" font-size="9.5" text-anchor="middle" font-weight="bold" fill="#1a1a1a" >**</text>
<text x="234.40" y="249.70" font-size="9.5" text-anchor="middle" font-weight="bold" fill="#1a1a1a" >**</text>
<text x="255.30" y="297.10" font-size="9.5" text-anchor="middle" font-weight="bold" fill="#1a1a1a" >*</text>
<text x="100.10" y="237.90" font-size="10.8" text-anchor="middle" textLength="60.50" lengthAdjust="spacingAndGlyphs" fill="#1a1a1a" >CALM-AF10</text>
<text x="245.30" y="236.50" font-size="10.8" text-anchor="middle" textLength="50.30" lengthAdjust="spacingAndGlyphs" fill="#1a1a1a" >MLL-AF10</text>
<text x="71.00" y="371.90" font-size="9.4" text-anchor="middle" textLength="27.50" lengthAdjust="spacingAndGlyphs" fill="#1a1a1a" >DMSO</text>
<text x="126.80" y="371.90" font-size="9.4" text-anchor="middle" textLength="50.50" lengthAdjust="spacingAndGlyphs" fill="#1a1a1a" >Atovaquone</text>
<text x="218.60" y="371.90" font-size="9.4" text-anchor="middle" textLength="27.50" lengthAdjust="spacingAndGlyphs" fill="#1a1a1a" >DMSO</text>
<text x="270.30" y="371.90" font-size="9.4" text-anchor="middle" textLength="50.50" lengthAdjust="spacingAndGlyphs" fill="#1a1a1a" >Atovaquone</text>
<text x="18.30" y="301.50" font-size="10.6" text-anchor="middle" textLength="63.60" lengthAdjust="spacingAndGlyphs" fill="#1a1a1a" transform="rotate(-90 18.30 301.50)" stroke="#1a1a1a" stroke-width="0.22">CFU/ 1,000 cells</text>
<rect x="110.4" y="385.8" width="11.2" height="6.0" fill="#a1032d"/>
<rect x="162.1" y="385.8" width="11.2" height="6.0" fill="#2c4a80"/>
<text x="125.40" y="392.40" font-size="9.7" textLength="18.80" lengthAdjust="spacingAndGlyphs" fill="#1a1a1a" >Blast</text>
<text x="176.80" y="392.40" font-size="9.7" textLength="53.40" lengthAdjust="spacingAndGlyphs" fill="#1a1a1a" >Differentiated</text>
<svg x="329.00" y="236.00" width="85.80" height="63.60" viewBox="0 0 85.80 63.60" overflow="hidden">
<rect width="85.80" height="63.60" fill="#9b9b9b"/>
<circle cx="27.8" cy="9.6" r="0.76" fill="none" stroke="#777" stroke-width="0.4" opacity="0.7"/>
<circle cx="6.2" cy="34.1" r="0.65" fill="none" stroke="#777" stroke-width="0.4" opacity="0.7"/>
<circle cx="5.0" cy="32.3" r="0.51" fill="none" stroke="#777" stroke-width="0.4" opacity="0.7"/>
<circle cx="37.2" cy="4.4" r="0.54" fill="none" stroke="#777" stroke-width="0.4" opacity="0.7"/>
<circle cx="36.4" cy="52.6" r="0.55" fill="none" stroke="#777" stroke-width="0.4" opacity="0.7"/>
<circle cx="19.2" cy="39.9" r="0.88" fill="none" stroke="#777" stroke-width="0.4" opacity="0.7"/>
<circle cx="49.5" cy="25.2" r="0.89" fill="none" stroke="#777" stroke-width="0.4" opacity="0.7"/>
<circle cx="4.0" cy="54.6" r="0.62" fill="none" stroke="#777" stroke-width="0.4" opacity="0.7"/>
<circle cx="12.4" cy="7.5" r="0.62" fill="none" stroke="#777" stroke-width="0.4" opacity="0.7"/>
<circle cx="70.0" cy="11.5" r="0.73" fill="none" stroke="#777" stroke-width="0.4" opacity="0.7"/>
<circle cx="54.8" cy="23.7" r="0.72" fill="none" stroke="#777" stroke-width="0.4" opacity="0.7"/>
<circle cx="5.4" cy="3.8" r="0.58" fill="none" stroke="#777" stroke-width="0.4" opacity="0.7"/>
<circle cx="58.4" cy="27.2" r="0.63" fill="none" stroke="#777" stroke-width="0.4" opacity="0.7"/>
<circle cx="50.2" cy="28.8" r="0.62" fill="none" stroke="#777" stroke-width="0.4" opacity="0.7"/>
<circle cx="68.2" cy="44.5" r="0.60" fill="none" stroke="#777" stroke-width="0.4" opacity="0.7"/>
<circle cx="49.3" cy="33.4" r="0.85" fill="none" stroke="#777" stroke-width="0.4" opacity="0.7"/>
<circle cx="62.6" cy="18.3" r="0.89" fill="none" stroke="#777" stroke-width="0.4" opacity="0.7"/>
<circle cx="10.1" cy="26.6" r="0.80" fill="none" stroke="#777" stroke-width="0.4" opacity="0.7"/>
<circle cx="13.0" cy="31.1" r="0.52" fill="none" stroke="#777" stroke-width="0.4" opacity="0.7"/>
<circle cx="57.3" cy="48.6" r="0.73" fill="none" stroke="#777" stroke-width="0.4" opacity="0.7"/>
<circle cx="75.1" cy="20.0" r="0.78" fill="none" stroke="#777" stroke-width="0.4" opacity="0.7"/>
<circle cx="51.0" cy="36.9" r="0.68" fill="none" stroke="#777" stroke-width="0.4" opacity="0.7"/>
<circle cx="72.1" cy="60.1" r="0.69" fill="none" stroke="#777" stroke-width="0.4" opacity="0.7"/>
<circle cx="57.0" cy="3.9" r="0.78" fill="none" stroke="#777" stroke-width="0.4" opacity="0.7"/>
<circle cx="55.5" cy="63.2" r="0.83" fill="none" stroke="#777" stroke-width="0.4" opacity="0.7"/>
<circle cx="24.4" cy="24.5" r="0.77" fill="none" stroke="#777" stroke-width="0.4" opacity="0.7"/>
<circle cx="1.9" cy="29.4" r="0.57" fill="none" stroke="#777" stroke-width="0.4" opacity="0.7"/>
<circle cx="10.0" cy="3.7" r="0.81" fill="none" stroke="#777" stroke-width="0.4" opacity="0.7"/>
<circle cx="11.1" cy="15.7" r="0.66" fill="none" stroke="#777" stroke-width="0.4" opacity="0.7"/>
<circle cx="74.8" cy="5.1" r="0.68" fill="none" stroke="#777" stroke-width="0.4" opacity="0.7"/>
<circle cx="47.1" cy="56.2" r="0.83" fill="none" stroke="#777" stroke-width="0.4" opacity="0.7"/>
<circle cx="74.1" cy="17.7" r="0.67" fill="none" stroke="#777" stroke-width="0.4" opacity="0.7"/>
<circle cx="30.8" cy="56.2" r="0.88" fill="none" stroke="#777" stroke-width="0.4" opacity="0.7"/>
<circle cx="12.9" cy="11.2" r="0.59" fill="none" stroke="#777" stroke-width="0.4" opacity="0.7"/>
<circle cx="20.0" cy="30.8" r="0.74" fill="none" stroke="#777" stroke-width="0.4" opacity="0.7"/>
<circle cx="22.5" cy="0.3" r="0.67" fill="none" stroke="#777" stroke-width="0.4" opacity="0.7"/>
<circle cx="31.7" cy="36.0" r="0.88" fill="none" stroke="#777" stroke-width="0.4" opacity="0.7"/>
<circle cx="59.2" cy="32.8" r="0.75" fill="none" stroke="#777" stroke-width="0.4" opacity="0.7"/>
<circle cx="58.0" cy="3.4" r="0.86" fill="none" stroke="#777" stroke-width="0.4" opacity="0.7"/>
<circle cx="66.9" cy="55.6" r="0.82" fill="none" stroke="#777" stroke-width="0.4" opacity="0.7"/>
<g filter="url(#col)"><circle cx="45.6" cy="10.2" r="19.2" fill="#464646"/><circle cx="60.6" cy="54.6" r="16.1" fill="#484848"/></g>
<rect width="85.80" height="63.60" fill="#000" filter="url(#grain)" opacity="0.05"/>
</svg>
<svg x="421.90" y="235.90" width="89.90" height="63.60" viewBox="0 0 89.90 63.60" overflow="hidden">
<rect width="89.90" height="63.60" fill="#9d9d9d"/>
<g filter="url(#db)">
<circle cx="32.6" cy="22.3" r="0.50" fill="#666" opacity="0.38"/>
<circle cx="56.6" cy="18.8" r="0.53" fill="#5a5a5a" opacity="0.65"/>
<circle cx="63.6" cy="23.8" r="0.72" fill="#5a5a5a" opacity="0.66"/>
<circle cx="56.5" cy="18.9" r="0.64" fill="#5a5a5a" opacity="0.83"/>
<circle cx="30.6" cy="9.2" r="0.51" fill="#666" opacity="0.85"/>
<circle cx="26.9" cy="18.4" r="0.49" fill="#444" opacity="0.72"/>
<circle cx="44.8" cy="4.6" r="0.80" fill="#444" opacity="0.45"/>
<circle cx="61.4" cy="13.2" r="0.80" fill="#444" opacity="0.73"/>
<circle cx="38.7" cy="29.7" r="0.50" fill="#5a5a5a" opacity="0.61"/>
<circle cx="59.4" cy="10.9" r="0.56" fill="#5a5a5a" opacity="0.67"/>
<circle cx="23.3" cy="4.5" r="0.83" fill="#505050" opacity="0.75"/>
<circle cx="57.6" cy="1.1" r="0.56" fill="#666" opacity="0.53"/>
<circle cx="50.0" cy="16.4" r="0.59" fill="#5a5a5a" opacity="0.45"/>
<circle cx="33.7" cy="10.4" r="0.85" fill="#5a5a5a" opacity="0.83"/>
<circle cx="38.1" cy="21.3" r="0.56" fill="#505050" opacity="0.52"/>
<circle cx="-3.1" cy="19.2" r="0.76" fill="#444" opacity="0.59"/>
<circle cx="28.5" cy="1.3" r="0.49" fill="#444" opacity="0.80"/>
<circle cx="51.7" cy="-0.3" r="0.69" fill="#505050" opacity="0.57"/>
<circle cx="41.2" cy="12.8" r="0.92" fill="#666" opacity="0.58"/>
<circle cx="45.7" cy="11.8" r="0.53" fill="#505050" opacity="0.36"/>
<circle cx="30.0" cy="10.0" r="0.78" fill="#666" opacity="0.68"/>
<circle cx="33.4" cy="26.2" r="0.52" fill="#444" opacity="0.75"/>
<circle cx="44.8" cy="11.4" r="0.82" fill="#505050" opacity="0.57"/>
<circle cx="68.0" cy="2.5" r="0.56" fill="#5a5a5a" opacity="0.46"/>
<circle cx="17.1" cy="15.9" r="0.61" fill="#666" opacity="0.77"/>
<circle cx="71.9" cy="22.1" r="0.90" fill="#666" opacity="0.76"/>
<circle cx="52.5" cy="12.3" r="0.53" fill="#444" opacity="0.79"/>
<circle cx="49.9" cy="2.5" r="0.84" fill="#505050" opacity="0.44"/>
<circle cx="19.1" cy="18.7" r="0.73" fill="#5a5a5a" opacity="0.69"/>
<circle cx="26.8" cy="13.8" r="0.84" fill="#444" opacity="0.47"/>
<circle cx="41.1" cy="33.0" r="0.70" fill="#444" opacity="0.73"/>
<circle cx="61.7" cy="10.3" r="0.76" fill="#505050" opacity="0.70"/>
<circle cx="25.9" cy="19.6" r="0.69" fill="#505050" opacity="0.70"/>
<circle cx="75.0" cy="-0.7" r="0.58" fill="#505050" opacity="0.77"/>
<circle cx="51.6" cy="19.9" r="0.67" fill="#444" opacity="0.69"/>
<circle cx="35.4" cy="19.0" r="0.60" fill="#444" opacity="0.80"/>
<circle cx="61.2" cy="29.1" r="0.78" fill="#505050" opacity="0.48"/>
<circle cx="58.4" cy="24.5" r="0.82" fill="#444" opacity="0.55"/>
<circle cx="-5.4" cy="18.4" r="0.87" fill="#505050" opacity="0.70"/>
<circle cx="63.3" cy="15.6" r="0.66" fill="#5a5a5a" opacity="0.51"/>
<circle cx="45.4" cy="14.0" r="0.73" fill="#666" opacity="0.70"/>
<circle cx="30.7" cy="24.0" r="0.60" fill="#444" opacity="0.41"/>
<circle cx="56.7" cy="12.5" r="0.89" fill="#444" opacity="0.48"/>
<circle cx="74.6" cy="20.3" r="0.59" fill="#505050" opacity="0.76"/>
<circle cx="60.9" cy="3.8" r="0.92" fill="#666" opacity="0.42"/>
<circle cx="65.3" cy="9.7" r="0.80" fill="#444" opacity="0.49"/>
<circle cx="49.3" cy="9.9" r="0.90" fill="#5a5a5a" opacity="0.82"/>
<circle cx="25.7" cy="2.5" r="0.49" fill="#505050" opacity="0.38"/>
<circle cx="58.2" cy="7.6" r="0.62" fill="#666" opacity="0.81"/>
<circle cx="45.0" cy="21.2" r="0.71" fill="#505050" opacity="0.82"/>
<circle cx="59.0" cy="14.5" r="0.54" fill="#5a5a5a" opacity="0.66"/>
<circle cx="34.7" cy="14.7" r="0.67" fill="#505050" opacity="0.49"/>
<circle cx="64.1" cy="-14.4" r="0.47" fill="#444" opacity="0.72"/>
<circle cx="35.5" cy="14.0" r="0.69" fill="#666" opacity="0.40"/>
<circle cx="53.6" cy="6.3" r="0.70" fill="#666" opacity="0.84"/>
<circle cx="41.8" cy="22.5" r="0.56" fill="#505050" opacity="0.77"/>
<circle cx="39.5" cy="2.3" r="0.65" fill="#5a5a5a" opacity="0.84"/>
<circle cx="47.5" cy="14.6" r="0.76" fill="#5a5a5a" opacity="0.57"/>
<circle cx="69.6" cy="21.0" r="0.64" fill="#5a5a5a" opacity="0.65"/>
<circle cx="44.2" cy="13.2" r="0.54" fill="#5a5a5a" opacity="0.57"/>
<circle cx="42.4" cy="41.5" r="0.94" fill="#5a5a5a" opacity="0.47"/>
<circle cx="60.3" cy="14.2" r="0.63" fill="#444" opacity="0.52"/>
<circle cx="57.9" cy="20.1" r="0.78" fill="#505050" opacity="0.60"/>
<circle cx="59.3" cy="16.2" r="0.49" fill="#666" opacity="0.64"/>
<circle cx="34.7" cy="21.2" r="0.76" fill="#444" opacity="0.64"/>
<circle cx="18.1" cy="13.0" r="0.78" fill="#666" opacity="0.73"/>
<circle cx="42.4" cy="4.5" r="0.59" fill="#505050" opacity="0.37"/>
<circle cx="64.3" cy="-2.1" r="0.76" fill="#505050" opacity="0.80"/>
<circle cx="46.4" cy="3.0" r="0.86" fill="#444" opacity="0.76"/>
<circle cx="15.0" cy="5.3" r="0.79" fill="#505050" opacity="0.39"/>
<circle cx="69.4" cy="19.7" r="0.93" fill="#666" opacity="0.77"/>
<circle cx="23.7" cy="10.9" r="0.76" fill="#505050" opacity="0.59"/>
<circle cx="76.4" cy="16.4" r="0.82" fill="#444" opacity="0.68"/>
<circle cx="71.4" cy="22.6" r="0.58" fill="#444" opacity="0.77"/>
<circle cx="48.7" cy="32.7" r="0.57" fill="#666" opacity="0.60"/>
<circle cx="31.6" cy="23.7" r="0.79" fill="#444" opacity="0.66"/>
<circle cx="41.7" cy="12.9" r="0.52" fill="#5a5a5a" opacity="0.68"/>
<circle cx="37.7" cy="3.0" r="0.52" fill="#666" opacity="0.38"/>
<circle cx="43.0" cy="30.8" r="0.80" fill="#666" opacity="0.50"/>
<circle cx="27.1" cy="14.8" r="0.68" fill="#444" opacity="0.85"/>
<circle cx="32.0" cy="13.4" r="0.49" fill="#666" opacity="0.36"/>
<circle cx="15.6" cy="20.7" r="0.93" fill="#666" opacity="0.85"/>
<circle cx="17.3" cy="30.5" r="0.92" fill="#444" opacity="0.64"/>
<circle cx="59.0" cy="25.5" r="0.93" fill="#505050" opacity="0.65"/>
<circle cx="36.7" cy="10.0" r="0.51" fill="#5a5a5a" opacity="0.47"/>
<circle cx="61.7" cy="9.1" r="0.46" fill="#444" opacity="0.82"/>
<circle cx="38.8" cy="6.7" r="0.81" fill="#666" opacity="0.52"/>
<circle cx="32.9" cy="33.5" r="0.45" fill="#5a5a5a" opacity="0.77"/>
<circle cx="74.3" cy="31.6" r="0.81" fill="#5a5a5a" opacity="0.48"/>
<circle cx="61.5" cy="19.9" r="0.88" fill="#444" opacity="0.53"/>
<circle cx="33.7" cy="19.5" r="0.47" fill="#444" opacity="0.38"/>
<circle cx="33.3" cy="3.9" r="0.52" fill="#5a5a5a" opacity="0.57"/>
<circle cx="34.3" cy="31.8" r="0.84" fill="#666" opacity="0.79"/>
<circle cx="55.1" cy="2.9" r="0.91" fill="#505050" opacity="0.71"/>
<circle cx="72.3" cy="21.0" r="0.68" fill="#505050" opacity="0.67"/>
<circle cx="44.8" cy="19.1" r="0.91" fill="#505050" opacity="0.44"/>
<circle cx="34.1" cy="20.1" r="0.58" fill="#5a5a5a" opacity="0.55"/>
<circle cx="47.4" cy="27.5" r="0.78" fill="#444" opacity="0.43"/>
<circle cx="52.1" cy="21.8" r="0.90" fill="#666" opacity="0.63"/>
<circle cx="31.4" cy="18.6" r="0.83" fill="#666" opacity="0.42"/>
<circle cx="48.6" cy="20.1" r="0.62" fill="#444" opacity="0.51"/>
<circle cx="25.1" cy="29.4" r="0.55" fill="#444" opacity="0.72"/>
<circle cx="31.0" cy="21.4" r="0.71" fill="#666" opacity="0.49"/>
<circle cx="46.3" cy="4.3" r="0.74" fill="#5a5a5a" opacity="0.41"/>
<circle cx="22.0" cy="15.7" r="0.88" fill="#505050" opacity="0.40"/>
<circle cx="59.3" cy="10.0" r="0.77" fill="#666" opacity="0.83"/>
<circle cx="66.1" cy="-0.5" r="0.46" fill="#444" opacity="0.56"/>
<circle cx="48.6" cy="-2.0" r="0.93" fill="#666" opacity="0.35"/>
<circle cx="15.8" cy="30.4" r="0.86" fill="#666" opacity="0.84"/>
<circle cx="46.1" cy="20.8" r="0.53" fill="#444" opacity="0.82"/>
<circle cx="41.7" cy="1.8" r="0.83" fill="#666" opacity="0.39"/>
<circle cx="46.1" cy="15.5" r="0.51" fill="#444" opacity="0.67"/>
<circle cx="43.1" cy="20.9" r="0.58" fill="#666" opacity="0.70"/>
<circle cx="50.9" cy="18.5" r="0.71" fill="#505050" opacity="0.54"/>
<circle cx="49.8" cy="29.4" r="0.46" fill="#5a5a5a" opacity="0.85"/>
<circle cx="43.3" cy="24.6" r="0.87" fill="#505050" opacity="0.59"/>
<circle cx="47.2" cy="23.5" r="0.93" fill="#5a5a5a" opacity="0.38"/>
<circle cx="58.2" cy="35.5" r="0.77" fill="#444" opacity="0.48"/>
<circle cx="26.8" cy="-3.8" r="0.56" fill="#444" opacity="0.70"/>
<circle cx="42.8" cy="6.7" r="0.65" fill="#444" opacity="0.75"/>
<circle cx="44.6" cy="4.2" r="0.55" fill="#505050" opacity="0.51"/>
<circle cx="51.2" cy="9.4" r="0.56" fill="#5a5a5a" opacity="0.40"/>
<circle cx="29.4" cy="6.4" r="0.90" fill="#666" opacity="0.56"/>
<circle cx="25.0" cy="-5.0" r="0.52" fill="#666" opacity="0.38"/>
<circle cx="68.6" cy="18.0" r="0.66" fill="#444" opacity="0.44"/>
<circle cx="20.5" cy="20.9" r="0.61" fill="#444" opacity="0.85"/>
<circle cx="59.8" cy="12.3" r="0.54" fill="#666" opacity="0.37"/>
<circle cx="37.5" cy="7.6" r="0.64" fill="#5a5a5a" opacity="0.57"/>
<circle cx="51.3" cy="18.6" r="0.49" fill="#666" opacity="0.83"/>
<circle cx="77.3" cy="34.1" r="0.55" fill="#5a5a5a" opacity="0.73"/>
<circle cx="34.9" cy="32.8" r="0.49" fill="#666" opacity="0.45"/>
<circle cx="28.1" cy="13.2" r="0.61" fill="#666" opacity="0.37"/>
<circle cx="19.7" cy="25.7" r="0.83" fill="#444" opacity="0.54"/>
<circle cx="16.1" cy="20.0" r="0.48" fill="#505050" opacity="0.72"/>
<circle cx="58.4" cy="10.6" r="0.59" fill="#444" opacity="0.48"/>
<circle cx="42.9" cy="7.5" r="0.59" fill="#444" opacity="0.71"/>
<circle cx="20.6" cy="5.8" r="0.92" fill="#444" opacity="0.36"/>
<circle cx="48.0" cy="27.3" r="0.93" fill="#666" opacity="0.74"/>
<circle cx="72.7" cy="6.5" r="0.52" fill="#666" opacity="0.44"/>
<circle cx="55.0" cy="0.5" r="0.86" fill="#505050" opacity="0.65"/>
<circle cx="39.0" cy="23.7" r="0.63" fill="#444" opacity="0.61"/>
<circle cx="38.2" cy="19.7" r="0.65" fill="#444" opacity="0.59"/>
<circle cx="36.3" cy="14.4" r="0.66" fill="#444" opacity="0.84"/>
<circle cx="45.3" cy="20.2" r="0.50" fill="#666" opacity="0.84"/>
<circle cx="56.3" cy="14.9" r="0.52" fill="#666" opacity="0.66"/>
<circle cx="33.0" cy="1.2" r="0.87" fill="#444" opacity="0.74"/>
<circle cx="42.3" cy="23.8" r="0.58" fill="#5a5a5a" opacity="0.72"/>
<circle cx="50.0" cy="23.2" r="0.57" fill="#505050" opacity="0.49"/>
<circle cx="55.2" cy="12.5" r="0.48" fill="#5a5a5a" opacity="0.85"/>
<circle cx="33.7" cy="15.7" r="0.85" fill="#666" opacity="0.85"/>
<circle cx="61.4" cy="22.8" r="0.86" fill="#666" opacity="0.81"/>
<circle cx="59.7" cy="18.1" r="0.51" fill="#505050" opacity="0.65"/>
<circle cx="51.3" cy="10.2" r="0.49" fill="#505050" opacity="0.57"/>
<circle cx="44.2" cy="33.3" r="0.92" fill="#444" opacity="0.67"/>
<circle cx="42.0" cy="7.0" r="0.47" fill="#5a5a5a" opacity="0.42"/>
<circle cx="49.7" cy="23.4" r="0.75" fill="#505050" opacity="0.76"/>
<circle cx="53.3" cy="6.7" r="0.64" fill="#5a5a5a" opacity="0.39"/>
<circle cx="65.5" cy="18.3" r="0.69" fill="#666" opacity="0.40"/>
<circle cx="29.0" cy="23.7" r="0.77" fill="#444" opacity="0.68"/>
<circle cx="35.2" cy="20.8" r="0.94" fill="#5a5a5a" opacity="0.56"/>
<circle cx="72.7" cy="21.2" r="0.89" fill="#666" opacity="0.56"/>
<circle cx="83.7" cy="-9.4" r="0.63" fill="#505050" opacity="0.55"/>
<circle cx="12.5" cy="29.4" r="0.67" fill="#505050" opacity="0.56"/>
<circle cx="53.4" cy="6.8" r="0.89" fill="#666" opacity="0.74"/>
<circle cx="49.8" cy="18.4" r="0.52" fill="#666" opacity="0.39"/>
<circle cx="34.2" cy="9.3" r="0.70" fill="#505050" opacity="0.52"/>
<circle cx="51.5" cy="21.2" r="0.48" fill="#666" opacity="0.60"/>
<circle cx="61.0" cy="-8.6" r="0.55" fill="#505050" opacity="0.77"/>
<circle cx="82.2" cy="22.0" r="0.61" fill="#666" opacity="0.39"/>
<circle cx="39.9" cy="1.2" r="0.90" fill="#505050" opacity="0.66"/>
<circle cx="37.6" cy="11.6" r="0.69" fill="#505050" opacity="0.37"/>
<circle cx="55.2" cy="13.8" r="0.63" fill="#505050" opacity="0.47"/>
<circle cx="40.3" cy="-5.1" r="0.47" fill="#444" opacity="0.68"/>
<circle cx="38.4" cy="24.9" r="0.68" fill="#5a5a5a" opacity="0.67"/>
<circle cx="41.4" cy="23.1" r="0.64" fill="#5a5a5a" opacity="0.57"/>
<circle cx="42.6" cy="16.8" r="0.76" fill="#666" opacity="0.58"/>
<circle cx="23.7" cy="20.6" r="0.86" fill="#505050" opacity="0.76"/>
<circle cx="40.9" cy="18.2" r="0.63" fill="#5a5a5a" opacity="0.40"/>
<circle cx="27.0" cy="20.3" r="0.47" fill="#505050" opacity="0.39"/>
<circle cx="42.9" cy="-1.2" r="0.71" fill="#444" opacity="0.73"/>
<circle cx="65.5" cy="7.1" r="0.84" fill="#444" opacity="0.78"/>
<circle cx="73.6" cy="15.6" r="0.86" fill="#505050" opacity="0.42"/>
<circle cx="56.5" cy="10.6" r="0.86" fill="#505050" opacity="0.69"/>
<circle cx="43.8" cy="9.0" r="0.87" fill="#5a5a5a" opacity="0.43"/>
<circle cx="56.9" cy="11.1" r="0.86" fill="#505050" opacity="0.48"/>
<circle cx="65.0" cy="13.5" r="0.75" fill="#505050" opacity="0.51"/>
<circle cx="56.5" cy="17.5" r="0.53" fill="#5a5a5a" opacity="0.69"/>
<circle cx="54.2" cy="12.3" r="0.84" fill="#444" opacity="0.73"/>
<circle cx="78.1" cy="21.9" r="0.93" fill="#666" opacity="0.63"/>
<circle cx="15.2" cy="6.0" r="0.50" fill="#666" opacity="0.72"/>
<circle cx="34.6" cy="23.0" r="0.63" fill="#505050" opacity="0.53"/>
<circle cx="47.7" cy="5.2" r="0.54" fill="#444" opacity="0.50"/>
<circle cx="31.4" cy="15.1" r="0.93" fill="#5a5a5a" opacity="0.72"/>
<circle cx="45.8" cy="8.9" r="0.60" fill="#666" opacity="0.56"/>
<circle cx="42.5" cy="18.4" r="0.69" fill="#444" opacity="0.36"/>
<circle cx="61.9" cy="16.2" r="0.50" fill="#5a5a5a" opacity="0.62"/>
<circle cx="33.7" cy="20.4" r="0.52" fill="#5a5a5a" opacity="0.66"/>
<circle cx="37.0" cy="16.8" r="0.92" fill="#505050" opacity="0.70"/>
<circle cx="40.1" cy="17.1" r="0.52" fill="#5a5a5a" opacity="0.55"/>
<circle cx="45.8" cy="17.5" r="0.77" fill="#5a5a5a" opacity="0.65"/>
<circle cx="25.7" cy="9.6" r="0.71" fill="#666" opacity="0.47"/>
<circle cx="50.2" cy="14.3" r="0.72" fill="#666" opacity="0.44"/>
<circle cx="66.2" cy="34.5" r="0.50" fill="#505050" opacity="0.42"/>
<circle cx="53.3" cy="29.0" r="0.70" fill="#666" opacity="0.76"/>
<circle cx="52.7" cy="23.7" r="0.60" fill="#444" opacity="0.85"/>
<circle cx="42.9" cy="4.7" r="0.72" fill="#666" opacity="0.77"/>
<circle cx="45.4" cy="4.8" r="0.82" fill="#666" opacity="0.44"/>
<circle cx="59.2" cy="15.8" r="0.77" fill="#444" opacity="0.52"/>
<circle cx="45.9" cy="0.6" r="0.87" fill="#444" opacity="0.48"/>
<circle cx="28.8" cy="12.5" r="0.84" fill="#5a5a5a" opacity="0.50"/>
<circle cx="78.5" cy="6.8" r="0.49" fill="#444" opacity="0.43"/>
<circle cx="73.0" cy="5.2" r="0.55" fill="#505050" opacity="0.72"/>
<circle cx="29.7" cy="34.2" r="0.61" fill="#505050" opacity="0.54"/>
<circle cx="68.9" cy="-2.1" r="0.94" fill="#666" opacity="0.59"/>
<circle cx="44.1" cy="15.8" r="0.46" fill="#505050" opacity="0.64"/>
<circle cx="41.8" cy="22.5" r="0.76" fill="#444" opacity="0.63"/>
<circle cx="48.1" cy="18.3" r="0.51" fill="#505050" opacity="0.52"/>
<circle cx="48.6" cy="17.9" r="0.47" fill="#444" opacity="0.70"/>
<circle cx="45.5" cy="12.3" r="0.75" fill="#5a5a5a" opacity="0.45"/>
<circle cx="66.2" cy="12.5" r="0.78" fill="#666" opacity="0.40"/>
<circle cx="48.3" cy="20.7" r="0.47" fill="#444" opacity="0.76"/>
<circle cx="36.5" cy="9.9" r="0.50" fill="#444" opacity="0.75"/>
<circle cx="37.4" cy="9.4" r="0.62" fill="#5a5a5a" opacity="0.36"/>
<circle cx="45.4" cy="24.1" r="0.81" fill="#5a5a5a" opacity="0.81"/>
<circle cx="48.8" cy="2.5" r="0.69" fill="#5a5a5a" opacity="0.66"/>
<circle cx="63.2" cy="18.0" r="0.67" fill="#444" opacity="0.52"/>
<circle cx="40.1" cy="4.1" r="0.56" fill="#444" opacity="0.64"/>
<circle cx="41.8" cy="26.4" r="0.71" fill="#5a5a5a" opacity="0.73"/>
<circle cx="47.6" cy="15.9" r="0.70" fill="#666" opacity="0.70"/>
<circle cx="66.3" cy="-7.3" r="0.75" fill="#5a5a5a" opacity="0.64"/>
<circle cx="14.3" cy="51.8" r="1.27" fill="none" stroke="#808080" stroke-width="0.45" opacity="0.7"/>
<circle cx="20.8" cy="10.5" r="1.27" fill="none" stroke="#808080" stroke-width="0.45" opacity="0.7"/>
<circle cx="68.9" cy="31.2" r="1.30" fill="none" stroke="#808080" stroke-width="0.45" opacity="0.7"/>
<circle cx="50.5" cy="6.6" r="0.96" fill="none" stroke="#808080" stroke-width="0.45" opacity="0.7"/>
<circle cx="8.6" cy="59.1" r="1.25" fill="none" stroke="#808080" stroke-width="0.45" opacity="0.7"/>
<circle cx="67.0" cy="26.8" r="1.12" fill="none" stroke="#808080" stroke-width="0.45" opacity="0.7"/>
<circle cx="33.4" cy="19.3" r="1.01" fill="none" stroke="#808080" stroke-width="0.45" opacity="0.7"/>
<circle cx="49.0" cy="10.9" r="1.29" fill="none" stroke="#808080" stroke-width="0.45" opacity="0.7"/>
<circle cx="56.7" cy="60.0" r="0.86" fill="none" stroke="#808080" stroke-width="0.45" opacity="0.7"/>
<circle cx="53.4" cy="43.8" r="1.10" fill="none" stroke="#808080" stroke-width="0.45" opacity="0.7"/>
<circle cx="3.0" cy="37.0" r="1.06" fill="none" stroke="#808080" stroke-width="0.45" opacity="0.7"/>
<circle cx="78.0" cy="28.6" r="1.08" fill="none" stroke="#808080" stroke-width="0.45" opacity="0.7"/>
<circle cx="29.1" cy="29.5" r="1.14" fill="none" stroke="#808080" stroke-width="0.45" opacity="0.7"/>
<circle cx="23.1" cy="14.7" r="0.97" fill="none" stroke="#808080" stroke-width="0.45" opacity="0.7"/>
<circle cx="57.8" cy="44.3" r="1.05" fill="none" stroke="#808080" stroke-width="0.45" opacity="0.7"/>
<circle cx="24.0" cy="48.0" r="1.21" fill="none" stroke="#808080" stroke-width="0.45" opacity="0.7"/>
<circle cx="55.5" cy="46.0" r="1.29" fill="none" stroke="#808080" stroke-width="0.45" opacity="0.7"/>
<circle cx="65.0" cy="38.3" r="0.97" fill="none" stroke="#808080" stroke-width="0.45" opacity="0.7"/>
<circle cx="21.2" cy="60.8" r="0.93" fill="none" stroke="#808080" stroke-width="0.45" opacity="0.7"/>
<circle cx="85.9" cy="63.3" r="0.88" fill="none" stroke="#808080" stroke-width="0.45" opacity="0.7"/>
<circle cx="59.1" cy="12.4" r="0.88" fill="none" stroke="#808080" stroke-width="0.45" opacity="0.7"/>
<circle cx="13.3" cy="19.2" r="0.95" fill="none" stroke="#808080" stroke-width="0.45" opacity="0.7"/>
<circle cx="24.6" cy="7.0" r="1.26" fill="none" stroke="#808080" stroke-width="0.45" opacity="0.7"/>
<circle cx="25.2" cy="56.3" r="1.03" fill="none" stroke="#808080" stroke-width="0.45" opacity="0.7"/>
<circle cx="1.1" cy="54.3" r="1.02" fill="none" stroke="#808080" stroke-width="0.45" opacity="0.7"/>
<circle cx="20.0" cy="62.4" r="0.95" fill="none" stroke="#808080" stroke-width="0.45" opacity="0.7"/>
<circle cx="2.0" cy="16.4" r="1.17" fill="none" stroke="#808080" stroke-width="0.45" opacity="0.7"/>
<circle cx="0.5" cy="15.4" r="1.23" fill="none" stroke="#808080" stroke-width="0.45" opacity="0.7"/>
<circle cx="63.0" cy="37.4" r="1.12" fill="none" stroke="#808080" stroke-width="0.45" opacity="0.7"/>
<circle cx="76.1" cy="42.5" r="1.13" fill="none" stroke="#808080" stroke-width="0.45" opacity="0.7"/>
<circle cx="78.9" cy="40.8" r="1.09" fill="none" stroke="#808080" stroke-width="0.45" opacity="0.7"/>
<circle cx="20.6" cy="11.5" r="0.86" fill="none" stroke="#808080" stroke-width="0.45" opacity="0.7"/>
<circle cx="38.9" cy="16.5" r="1.15" fill="none" stroke="#808080" stroke-width="0.45" opacity="0.7"/>
<circle cx="80.4" cy="15.4" r="1.00" fill="none" stroke="#808080" stroke-width="0.45" opacity="0.7"/>
<circle cx="64.1" cy="10.0" r="1.22" fill="none" stroke="#808080" stroke-width="0.45" opacity="0.7"/>
<circle cx="43.4" cy="1.3" r="1.23" fill="none" stroke="#808080" stroke-width="0.45" opacity="0.7"/>
<circle cx="46.6" cy="42.0" r="1.24" fill="none" stroke="#808080" stroke-width="0.45" opacity="0.7"/>
<circle cx="80.4" cy="20.9" r="0.81" fill="none" stroke="#808080" stroke-width="0.45" opacity="0.7"/>
<circle cx="74.8" cy="57.8" r="0.85" fill="none" stroke="#808080" stroke-width="0.45" opacity="0.7"/>
<circle cx="22.6" cy="13.9" r="1.16" fill="none" stroke="#808080" stroke-width="0.45" opacity="0.7"/>
<circle cx="85.5" cy="12.7" r="0.97" fill="none" stroke="#808080" stroke-width="0.45" opacity="0.7"/>
<circle cx="76.2" cy="29.1" r="0.90" fill="none" stroke="#808080" stroke-width="0.45" opacity="0.7"/>
<circle cx="42.8" cy="1.0" r="1.20" fill="none" stroke="#808080" stroke-width="0.45" opacity="0.7"/>
<circle cx="33.3" cy="21.8" r="1.17" fill="none" stroke="#808080" stroke-width="0.45" opacity="0.7"/>
<circle cx="41.1" cy="63.0" r="0.89" fill="none" stroke="#808080" stroke-width="0.45" opacity="0.7"/>
<circle cx="46.2" cy="59.3" r="1.16" fill="none" stroke="#808080" stroke-width="0.45" opacity="0.7"/>
<circle cx="55.2" cy="40.5" r="0.93" fill="none" stroke="#808080" stroke-width="0.45" opacity="0.7"/>
<circle cx="34.3" cy="3.9" r="0.84" fill="none" stroke="#808080" stroke-width="0.45" opacity="0.7"/>
<circle cx="82.3" cy="40.0" r="1.14" fill="none" stroke="#808080" stroke-width="0.45" opacity="0.7"/>
<circle cx="52.2" cy="6.9" r="0.95" fill="none" stroke="#808080" stroke-width="0.45" opacity="0.7"/>
<circle cx="36.0" cy="60.6" r="1.29" fill="none" stroke="#808080" stroke-width="0.45" opacity="0.7"/>
<circle cx="89.4" cy="61.1" r="1.03" fill="none" stroke="#808080" stroke-width="0.45" opacity="0.7"/>
<circle cx="14.8" cy="59.1" r="0.83" fill="none" stroke="#808080" stroke-width="0.45" opacity="0.7"/>
<circle cx="71.8" cy="12.3" r="1.12" fill="none" stroke="#808080" stroke-width="0.45" opacity="0.7"/>
<circle cx="64.8" cy="51.8" r="0.87" fill="none" stroke="#808080" stroke-width="0.45" opacity="0.7"/>
<circle cx="59.9" cy="52.8" r="1.20" fill="none" stroke="#808080" stroke-width="0.45" opacity="0.7"/>
<circle cx="37.2" cy="63.4" r="1.18" fill="none" stroke="#808080" stroke-width="0.45" opacity="0.7"/>
<circle cx="58.4" cy="49.6" r="1.03" fill="none" stroke="#808080" stroke-width="0.45" opacity="0.7"/>
<circle cx="70.4" cy="14.7" r="1.15" fill="none" stroke="#808080" stroke-width="0.45" opacity="0.7"/>
<circle cx="61.8" cy="62.5" r="1.14" fill="none" stroke="#808080" stroke-width="0.45" opacity="0.7"/>
<circle cx="43.3" cy="51.2" r="1.20" fill="none" stroke="#808080" stroke-width="0.45" opacity="0.7"/>
<circle cx="32.2" cy="41.6" r="0.96" fill="none" stroke="#808080" stroke-width="0.45" opacity="0.7"/>
<circle cx="43.6" cy="39.6" r="0.84" fill="none" stroke="#808080" stroke-width="0.45" opacity="0.7"/>
<circle cx="80.6" cy="9.7" r="0.95" fill="none" stroke="#808080" stroke-width="0.45" opacity="0.7"/>
<circle cx="34.6" cy="5.4" r="1.08" fill="none" stroke="#808080" stroke-width="0.45" opacity="0.7"/>
<circle cx="29.2" cy="60.0" r="1.07" fill="none" stroke="#808080" stroke-width="0.45" opacity="0.7"/>
<circle cx="31.0" cy="37.0" r="1.13" fill="none" stroke="#808080" stroke-width="0.45" opacity="0.7"/>
<circle cx="18.9" cy="4.6" r="0.95" fill="none" stroke="#808080" stroke-width="0.45" opacity="0.7"/>
<circle cx="54.7" cy="36.8" r="1.23" fill="none" stroke="#808080" stroke-width="0.45" opacity="0.7"/>
<circle cx="16.7" cy="28.7" r="1.19" fill="none" stroke="#808080" stroke-width="0.45" opacity="0.7"/>
</g>
<rect width="89.90" height="63.60" fill="#000" filter="url(#grain)" opacity="0.05"/>
</svg>
<svg x="329.80" y="305.70" width="84.00" height="61.90" viewBox="0 0 84.00 61.90" overflow="hidden">
<rect width="84.00" height="61.90" fill="#8d8d8d"/>
<circle cx="17.5" cy="24.9" r="0.71" fill="none" stroke="#777" stroke-width="0.4" opacity="0.7"/>
<circle cx="51.2" cy="42.6" r="0.89" fill="none" stroke="#777" stroke-width="0.4" opacity="0.7"/>
<circle cx="7.6" cy="55.8" r="0.72" fill="none" stroke="#777" stroke-width="0.4" opacity="0.7"/>
<circle cx="53.5" cy="18.4" r="0.70" fill="none" stroke="#777" stroke-width="0.4" opacity="0.7"/>
<circle cx="17.9" cy="4.9" r="0.84" fill="none" stroke="#777" stroke-width="0.4" opacity="0.7"/>
<circle cx="56.4" cy="7.2" r="0.55" fill="none" stroke="#777" stroke-width="0.4" opacity="0.7"/>
<circle cx="35.2" cy="51.2" r="0.69" fill="none" stroke="#777" stroke-width="0.4" opacity="0.7"/>
<circle cx="46.8" cy="30.0" r="0.86" fill="none" stroke="#777" stroke-width="0.4" opacity="0.7"/>
<circle cx="58.8" cy="15.3" r="0.57" fill="none" stroke="#777" stroke-width="0.4" opacity="0.7"/>
<circle cx="50.4" cy="45.5" r="0.56" fill="none" stroke="#777" stroke-width="0.4" opacity="0.7"/>
<circle cx="26.9" cy="43.1" r="0.70" fill="none" stroke="#777" stroke-width="0.4" opacity="0.7"/>
<circle cx="24.9" cy="28.8" r="0.67" fill="none" stroke="#777" stroke-width="0.4" opacity="0.7"/>
<circle cx="84.0" cy="41.8" r="0.57" fill="none" stroke="#777" stroke-width="0.4" opacity="0.7"/>
<circle cx="30.3" cy="40.0" r="0.51" fill="none" stroke="#777" stroke-width="0.4" opacity="0.7"/>
<circle cx="3.9" cy="45.6" r="0.90" fill="none" stroke="#777" stroke-width="0.4" opacity="0.7"/>
<circle cx="67.9" cy="5.8" r="0.69" fill="none" stroke="#777" stroke-width="0.4" opacity="0.7"/>
<circle cx="63.6" cy="8.9" r="0.59" fill="none" stroke="#777" stroke-width="0.4" opacity="0.7"/>
<circle cx="34.9" cy="7.9" r="0.54" fill="none" stroke="#777" stroke-width="0.4" opacity="0.7"/>
<circle cx="55.4" cy="21.1" r="0.81" fill="none" stroke="#777" stroke-width="0.4" opacity="0.7"/>
<circle cx="46.5" cy="56.5" r="0.61" fill="none" stroke="#777" stroke-width="0.4" opacity="0.7"/>
<circle cx="28.7" cy="15.6" r="0.52" fill="none" stroke="#777" stroke-width="0.4" opacity="0.7"/>
<circle cx="24.3" cy="22.0" r="0.70" fill="none" stroke="#777" stroke-width="0.4" opacity="0.7"/>
<circle cx="28.0" cy="60.9" r="0.85" fill="none" stroke="#777" stroke-width="0.4" opacity="0.7"/>
<circle cx="29.0" cy="12.6" r="0.70" fill="none" stroke="#777" stroke-width="0.4" opacity="0.7"/>
<circle cx="9.9" cy="11.9" r="0.79" fill="none" stroke="#777" stroke-width="0.4" opacity="0.7"/>
<g filter="url(#col)"><circle cx="47.4" cy="19.3" r="17.8" fill="#484848"/><circle cx="35.2" cy="33.2" r="16.8" fill="#484848"/><circle cx="45.5" cy="31" r="17.5" fill="#484848"/></g>
<rect width="84.00" height="61.90" fill="#000" filter="url(#grain)" opacity="0.05"/>
</svg>
<svg x="421.90" y="305.80" width="89.90" height="63.10" viewBox="0 0 89.90 63.10" overflow="hidden">
<rect width="89.90" height="63.10" fill="#a1a1a1"/>
<g filter="url(#db)">
<circle cx="52.7" cy="23.2" r="0.65" fill="#3a3a3a" opacity="0.55"/>
<circle cx="60.8" cy="24.0" r="0.69" fill="#3a3a3a" opacity="0.74"/>
<circle cx="70.0" cy="17.4" r="0.76" fill="#3a3a3a" opacity="0.46"/>
<circle cx="52.9" cy="15.9" r="0.50" fill="#4a4a4a" opacity="0.78"/>
<circle cx="54.3" cy="24.1" r="0.46" fill="#4a4a4a" opacity="0.74"/>
<circle cx="51.3" cy="20.5" r="0.66" fill="#555" opacity="0.36"/>
<circle cx="46.4" cy="18.9" r="0.70" fill="#3a3a3a" opacity="0.76"/>
<circle cx="60.0" cy="15.4" r="0.65" fill="#3a3a3a" opacity="0.36"/>
<circle cx="48.2" cy="28.7" r="0.94" fill="#666" opacity="0.73"/>
<circle cx="54.4" cy="21.7" r="0.90" fill="#3a3a3a" opacity="0.56"/>
<circle cx="73.3" cy="23.2" r="0.88" fill="#4a4a4a" opacity="0.78"/>
<circle cx="59.7" cy="23.6" r="0.57" fill="#4a4a4a" opacity="0.81"/>
<circle cx="47.4" cy="31.3" r="0.52" fill="#3a3a3a" opacity="0.50"/>
<circle cx="47.4" cy="19.7" r="0.90" fill="#3a3a3a" opacity="0.71"/>
<circle cx="60.1" cy="22.7" r="0.86" fill="#3a3a3a" opacity="0.54"/>
<circle cx="53.2" cy="31.4" r="0.87" fill="#3a3a3a" opacity="0.51"/>
<circle cx="73.7" cy="19.0" r="0.53" fill="#3a3a3a" opacity="0.53"/>
<circle cx="49.8" cy="14.8" r="0.64" fill="#666" opacity="0.82"/>
<circle cx="61.2" cy="13.8" r="0.48" fill="#555" opacity="0.78"/>
<circle cx="39.5" cy="13.5" r="0.57" fill="#666" opacity="0.69"/>
<circle cx="41.3" cy="13.7" r="0.59" fill="#3a3a3a" opacity="0.51"/>
<circle cx="57.7" cy="26.7" r="0.83" fill="#3a3a3a" opacity="0.49"/>
<circle cx="71.7" cy="34.0" r="0.52" fill="#666" opacity="0.52"/>
<circle cx="69.3" cy="27.1" r="0.55" fill="#4a4a4a" opacity="0.50"/>
<circle cx="67.8" cy="25.1" r="0.91" fill="#3a3a3a" opacity="0.75"/>
<circle cx="54.3" cy="23.4" r="0.84" fill="#4a4a4a" opacity="0.55"/>
<circle cx="50.7" cy="21.9" r="0.61" fill="#4a4a4a" opacity="0.44"/>
<circle cx="60.6" cy="26.7" r="0.63" fill="#555" opacity="0.55"/>
<circle cx="55.5" cy="22.0" r="0.77" fill="#3a3a3a" opacity="0.43"/>
<circle cx="50.9" cy="18.9" r="0.46" fill="#3a3a3a" opacity="0.45"/>
<circle cx="67.3" cy="16.0" r="0.56" fill="#555" opacity="0.56"/>
<circle cx="74.5" cy="18.7" r="0.93" fill="#555" opacity="0.77"/>
<circle cx="41.3" cy="41.8" r="0.46" fill="#3a3a3a" opacity="0.63"/>
<circle cx="66.0" cy="17.0" r="0.90" fill="#3a3a3a" opacity="0.78"/>
<circle cx="44.0" cy="10.4" r="0.49" fill="#555" opacity="0.63"/>
<circle cx="42.5" cy="9.1" r="0.65" fill="#666" opacity="0.77"/>
<circle cx="53.4" cy="26.3" r="0.54" fill="#555" opacity="0.82"/>
<circle cx="52.9" cy="23.0" r="0.82" fill="#666" opacity="0.38"/>
<circle cx="68.7" cy="31.9" r="0.79" fill="#555" opacity="0.64"/>
<circle cx="44.8" cy="26.3" r="0.64" fill="#666" opacity="0.41"/>
<circle cx="15.6" cy="3.4" r="0.81" fill="#4a4a4a" opacity="0.75"/>
<circle cx="34.0" cy="16.9" r="0.84" fill="#3a3a3a" opacity="0.81"/>
<circle cx="54.4" cy="22.4" r="0.51" fill="#555" opacity="0.42"/>
<circle cx="59.0" cy="25.0" r="0.73" fill="#4a4a4a" opacity="0.57"/>
<circle cx="7.2" cy="0.4" r="0.85" fill="#555" opacity="0.60"/>
<circle cx="63.9" cy="22.8" r="0.78" fill="#4a4a4a" opacity="0.63"/>
<circle cx="61.0" cy="19.6" r="0.94" fill="#666" opacity="0.85"/>
<circle cx="24.0" cy="6.2" r="0.81" fill="#555" opacity="0.42"/>
<circle cx="51.5" cy="16.8" r="0.71" fill="#666" opacity="0.35"/>
<circle cx="32.3" cy="8.6" r="0.74" fill="#4a4a4a" opacity="0.77"/>
<circle cx="41.8" cy="7.5" r="0.82" fill="#555" opacity="0.44"/>
<circle cx="68.1" cy="30.5" r="0.55" fill="#555" opacity="0.45"/>
<circle cx="73.3" cy="27.2" r="0.81" fill="#3a3a3a" opacity="0.61"/>
<circle cx="53.7" cy="27.3" r="0.92" fill="#3a3a3a" opacity="0.36"/>
<circle cx="68.0" cy="18.3" r="0.58" fill="#4a4a4a" opacity="0.63"/>
<circle cx="61.1" cy="22.4" r="0.74" fill="#3a3a3a" opacity="0.53"/>
<circle cx="26.4" cy="13.8" r="0.91" fill="#666" opacity="0.64"/>
<circle cx="43.2" cy="15.8" r="0.85" fill="#4a4a4a" opacity="0.36"/>
<circle cx="13.9" cy="8.6" r="0.47" fill="#3a3a3a" opacity="0.81"/>
<circle cx="57.9" cy="17.2" r="0.77" fill="#666" opacity="0.61"/>
<circle cx="57.0" cy="19.5" r="0.81" fill="#3a3a3a" opacity="0.49"/>
<circle cx="45.4" cy="24.6" r="0.51" fill="#3a3a3a" opacity="0.55"/>
<circle cx="67.1" cy="29.7" r="0.52" fill="#666" opacity="0.72"/>
<circle cx="68.0" cy="33.8" r="0.64" fill="#666" opacity="0.65"/>
<circle cx="56.2" cy="21.5" r="0.48" fill="#555" opacity="0.52"/>
<circle cx="58.9" cy="28.9" r="0.94" fill="#555" opacity="0.76"/>
<circle cx="60.3" cy="20.7" r="0.93" fill="#555" opacity="0.47"/>
<circle cx="45.9" cy="27.3" r="0.72" fill="#3a3a3a" opacity="0.51"/>
<circle cx="18.1" cy="15.7" r="0.68" fill="#3a3a3a" opacity="0.75"/>
<circle cx="39.2" cy="18.3" r="0.59" fill="#3a3a3a" opacity="0.66"/>
<circle cx="58.4" cy="31.1" r="0.93" fill="#555" opacity="0.41"/>
<circle cx="62.6" cy="17.1" r="0.49" fill="#4a4a4a" opacity="0.57"/>
<circle cx="37.6" cy="21.5" r="0.74" fill="#555" opacity="0.47"/>
<circle cx="69.1" cy="27.2" r="0.75" fill="#4a4a4a" opacity="0.68"/>
<circle cx="63.2" cy="33.1" r="0.72" fill="#666" opacity="0.58"/>
<circle cx="29.7" cy="13.9" r="0.46" fill="#555" opacity="0.43"/>
<circle cx="66.9" cy="20.8" r="0.58" fill="#4a4a4a" opacity="0.50"/>
<circle cx="49.5" cy="18.8" r="0.64" fill="#666" opacity="0.53"/>
<circle cx="59.4" cy="14.1" r="0.79" fill="#4a4a4a" opacity="0.56"/>
<circle cx="37.0" cy="18.9" r="0.50" fill="#666" opacity="0.48"/>
<circle cx="48.8" cy="15.4" r="0.66" fill="#3a3a3a" opacity="0.35"/>
<circle cx="59.7" cy="13.4" r="0.93" fill="#4a4a4a" opacity="0.56"/>
<circle cx="62.7" cy="8.7" r="0.64" fill="#666" opacity="0.70"/>
<circle cx="56.2" cy="28.9" r="0.71" fill="#666" opacity="0.67"/>
<circle cx="74.9" cy="23.1" r="0.64" fill="#555" opacity="0.44"/>
<circle cx="56.5" cy="26.3" r="0.74" fill="#3a3a3a" opacity="0.76"/>
<circle cx="45.7" cy="38.8" r="0.57" fill="#555" opacity="0.45"/>
<circle cx="7.0" cy="0.6" r="0.91" fill="#555" opacity="0.62"/>
<circle cx="70.5" cy="22.5" r="0.79" fill="#666" opacity="0.58"/>
<circle cx="72.9" cy="25.3" r="0.46" fill="#3a3a3a" opacity="0.61"/>
<circle cx="66.3" cy="26.5" r="0.73" fill="#4a4a4a" opacity="0.79"/>
<circle cx="69.7" cy="20.8" r="0.76" fill="#555" opacity="0.70"/>
<circle cx="58.3" cy="19.5" r="0.63" fill="#3a3a3a" opacity="0.76"/>
<circle cx="53.6" cy="22.3" r="0.79" fill="#666" opacity="0.67"/>
<circle cx="50.7" cy="19.4" r="0.73" fill="#3a3a3a" opacity="0.53"/>
<circle cx="29.6" cy="6.7" r="0.80" fill="#3a3a3a" opacity="0.81"/>
<circle cx="13.5" cy="6.2" r="0.73" fill="#4a4a4a" opacity="0.64"/>
<circle cx="46.9" cy="17.0" r="0.54" fill="#666" opacity="0.76"/>
<circle cx="10.1" cy="-1.4" r="0.81" fill="#555" opacity="0.49"/>
<circle cx="72.2" cy="24.6" r="0.92" fill="#3a3a3a" opacity="0.52"/>
<circle cx="42.9" cy="15.0" r="0.67" fill="#4a4a4a" opacity="0.47"/>
<circle cx="80.6" cy="27.0" r="0.61" fill="#666" opacity="0.50"/>
<circle cx="38.1" cy="11.9" r="0.92" fill="#4a4a4a" opacity="0.69"/>
<circle cx="52.4" cy="14.3" r="0.65" fill="#666" opacity="0.36"/>
<circle cx="35.5" cy="8.9" r="0.65" fill="#555" opacity="0.41"/>
<circle cx="48.8" cy="21.1" r="0.48" fill="#3a3a3a" opacity="0.56"/>
<circle cx="69.3" cy="18.0" r="0.68" fill="#555" opacity="0.47"/>
<circle cx="72.8" cy="24.9" r="0.53" fill="#4a4a4a" opacity="0.40"/>
<circle cx="34.0" cy="5.2" r="0.53" fill="#555" opacity="0.46"/>
<circle cx="46.7" cy="28.1" r="0.60" fill="#666" opacity="0.60"/>
<circle cx="42.3" cy="21.5" r="0.74" fill="#555" opacity="0.62"/>
<circle cx="44.3" cy="14.8" r="0.88" fill="#666" opacity="0.36"/>
<circle cx="40.8" cy="10.3" r="0.57" fill="#4a4a4a" opacity="0.68"/>
<circle cx="68.4" cy="28.3" r="0.70" fill="#555" opacity="0.45"/>
<circle cx="57.6" cy="19.7" r="0.86" fill="#666" opacity="0.49"/>
<circle cx="40.4" cy="31.3" r="0.89" fill="#4a4a4a" opacity="0.82"/>
<circle cx="62.7" cy="28.6" r="0.80" fill="#666" opacity="0.36"/>
<circle cx="55.2" cy="15.1" r="0.65" fill="#3a3a3a" opacity="0.44"/>
<circle cx="74.9" cy="32.8" r="0.81" fill="#3a3a3a" opacity="0.55"/>
<circle cx="50.2" cy="17.9" r="0.53" fill="#3a3a3a" opacity="0.63"/>
<circle cx="42.0" cy="10.5" r="0.56" fill="#666" opacity="0.71"/>
<circle cx="58.1" cy="30.1" r="0.62" fill="#3a3a3a" opacity="0.41"/>
<circle cx="59.7" cy="12.4" r="0.89" fill="#3a3a3a" opacity="0.84"/>
<circle cx="57.2" cy="20.9" r="0.84" fill="#555" opacity="0.72"/>
<circle cx="71.6" cy="28.2" r="0.82" fill="#4a4a4a" opacity="0.49"/>
<circle cx="78.8" cy="31.7" r="0.92" fill="#666" opacity="0.60"/>
<circle cx="55.4" cy="18.3" r="0.87" fill="#4a4a4a" opacity="0.59"/>
<circle cx="67.6" cy="38.6" r="0.73" fill="#4a4a4a" opacity="0.62"/>
<circle cx="72.4" cy="20.7" r="0.57" fill="#3a3a3a" opacity="0.43"/>
<circle cx="55.9" cy="25.1" r="0.52" fill="#666" opacity="0.69"/>
<circle cx="59.0" cy="27.8" r="0.67" fill="#555" opacity="0.70"/>
<circle cx="68.9" cy="30.8" r="0.57" fill="#3a3a3a" opacity="0.62"/>
<circle cx="58.8" cy="18.3" r="0.75" fill="#666" opacity="0.77"/>
<circle cx="52.8" cy="25.2" r="0.46" fill="#666" opacity="0.45"/>
<circle cx="40.8" cy="15.5" r="0.61" fill="#666" opacity="0.63"/>
<circle cx="36.1" cy="9.9" r="0.82" fill="#555" opacity="0.84"/>
<circle cx="54.0" cy="21.3" r="0.67" fill="#4a4a4a" opacity="0.74"/>
<circle cx="17.8" cy="3.5" r="0.80" fill="#4a4a4a" opacity="0.39"/>
<circle cx="58.4" cy="21.0" r="0.52" fill="#555" opacity="0.44"/>
<circle cx="45.9" cy="12.3" r="0.53" fill="#555" opacity="0.72"/>
<circle cx="55.4" cy="26.6" r="0.61" fill="#555" opacity="0.42"/>
<circle cx="75.1" cy="16.1" r="0.48" fill="#3a3a3a" opacity="0.63"/>
<circle cx="45.6" cy="13.3" r="0.90" fill="#4a4a4a" opacity="0.60"/>
<circle cx="52.5" cy="22.6" r="0.74" fill="#3a3a3a" opacity="0.42"/>
<circle cx="59.2" cy="26.4" r="0.65" fill="#3a3a3a" opacity="0.78"/>
<circle cx="51.4" cy="23.2" r="0.47" fill="#666" opacity="0.42"/>
<circle cx="61.4" cy="23.6" r="0.90" fill="#3a3a3a" opacity="0.57"/>
<circle cx="49.0" cy="11.3" r="0.53" fill="#555" opacity="0.35"/>
<circle cx="63.4" cy="12.7" r="0.68" fill="#555" opacity="0.61"/>
<circle cx="47.3" cy="26.4" r="0.53" fill="#666" opacity="0.83"/>
<circle cx="38.9" cy="12.9" r="0.74" fill="#555" opacity="0.59"/>
<circle cx="53.3" cy="17.9" r="0.89" fill="#3a3a3a" opacity="0.77"/>
<circle cx="61.2" cy="33.9" r="0.52" fill="#555" opacity="0.63"/>
<circle cx="30.0" cy="12.0" r="0.93" fill="#4a4a4a" opacity="0.62"/>
<circle cx="73.6" cy="31.6" r="0.50" fill="#555" opacity="0.70"/>
<circle cx="60.0" cy="30.3" r="0.80" fill="#3a3a3a" opacity="0.78"/>
<circle cx="25.5" cy="10.8" r="0.92" fill="#3a3a3a" opacity="0.58"/>
<circle cx="53.5" cy="14.5" r="0.55" fill="#666" opacity="0.74"/>
<circle cx="19.9" cy="6.1" r="0.75" fill="#4a4a4a" opacity="0.58"/>
<circle cx="62.3" cy="25.2" r="0.49" fill="#4a4a4a" opacity="0.63"/>
<circle cx="41.1" cy="20.2" r="0.79" fill="#555" opacity="0.41"/>
<circle cx="47.0" cy="30.8" r="0.81" fill="#3a3a3a" opacity="0.76"/>
<circle cx="52.7" cy="27.8" r="0.75" fill="#3a3a3a" opacity="0.81"/>
<circle cx="33.2" cy="6.6" r="0.51" fill="#3a3a3a" opacity="0.59"/>
<circle cx="57.9" cy="16.4" r="0.87" fill="#555" opacity="0.62"/>
<circle cx="51.7" cy="10.8" r="0.46" fill="#555" opacity="0.85"/>
<circle cx="54.2" cy="19.6" r="0.77" fill="#666" opacity="0.77"/>
<circle cx="73.4" cy="20.4" r="0.56" fill="#3a3a3a" opacity="0.53"/>
<circle cx="40.8" cy="18.9" r="0.81" fill="#555" opacity="0.64"/>
<circle cx="36.4" cy="13.1" r="0.68" fill="#3a3a3a" opacity="0.67"/>
<circle cx="57.6" cy="18.7" r="0.48" fill="#555" opacity="0.53"/>
<circle cx="50.0" cy="11.7" r="0.50" fill="#4a4a4a" opacity="0.74"/>
<circle cx="48.9" cy="15.2" r="0.59" fill="#4a4a4a" opacity="0.79"/>
<circle cx="72.4" cy="18.6" r="0.83" fill="#555" opacity="0.60"/>
<circle cx="52.3" cy="17.7" r="0.65" fill="#3a3a3a" opacity="0.70"/>
<circle cx="48.6" cy="9.8" r="0.70" fill="#4a4a4a" opacity="0.75"/>
<circle cx="49.7" cy="16.1" r="0.65" fill="#555" opacity="0.81"/>
<circle cx="53.6" cy="20.6" r="0.58" fill="#555" opacity="0.39"/>
<circle cx="66.7" cy="37.4" r="0.60" fill="#555" opacity="0.84"/>
<circle cx="47.7" cy="32.1" r="0.88" fill="#3a3a3a" opacity="0.77"/>
<circle cx="55.8" cy="26.5" r="0.72" fill="#4a4a4a" opacity="0.66"/>
<circle cx="33.0" cy="8.4" r="0.70" fill="#3a3a3a" opacity="0.45"/>
<circle cx="55.8" cy="4.7" r="0.49" fill="#555" opacity="0.71"/>
<circle cx="66.3" cy="22.8" r="0.46" fill="#555" opacity="0.81"/>
<circle cx="60.5" cy="28.7" r="0.77" fill="#666" opacity="0.65"/>
<circle cx="60.3" cy="18.5" r="0.85" fill="#3a3a3a" opacity="0.66"/>
<circle cx="52.5" cy="29.6" r="0.58" fill="#666" opacity="0.79"/>
<circle cx="67.0" cy="23.6" r="0.61" fill="#666" opacity="0.66"/>
<circle cx="20.8" cy="8.1" r="0.49" fill="#555" opacity="0.56"/>
<circle cx="45.5" cy="20.4" r="0.78" fill="#555" opacity="0.47"/>
<circle cx="44.9" cy="13.9" r="0.47" fill="#555" opacity="0.68"/>
<circle cx="43.5" cy="19.2" r="0.63" fill="#555" opacity="0.42"/>
<circle cx="69.7" cy="23.1" r="0.84" fill="#555" opacity="0.43"/>
<circle cx="51.4" cy="17.5" r="0.92" fill="#4a4a4a" opacity="0.41"/>
<circle cx="51.9" cy="21.3" r="0.58" fill="#555" opacity="0.72"/>
<circle cx="75.0" cy="14.5" r="0.84" fill="#3a3a3a" opacity="0.53"/>
<circle cx="55.7" cy="15.3" r="0.56" fill="#555" opacity="0.80"/>
<circle cx="53.1" cy="25.7" r="0.46" fill="#3a3a3a" opacity="0.38"/>
<circle cx="52.2" cy="17.0" r="0.48" fill="#666" opacity="0.55"/>
<circle cx="79.4" cy="14.4" r="0.56" fill="#555" opacity="0.36"/>
<circle cx="56.5" cy="17.6" r="0.61" fill="#666" opacity="0.67"/>
<circle cx="40.7" cy="17.4" r="0.88" fill="#555" opacity="0.83"/>
<circle cx="11.3" cy="-0.6" r="0.61" fill="#666" opacity="0.46"/>
<circle cx="74.9" cy="26.5" r="0.82" fill="#3a3a3a" opacity="0.74"/>
<circle cx="62.5" cy="19.2" r="0.95" fill="#555" opacity="0.69"/>
<circle cx="60.3" cy="18.8" r="0.52" fill="#555" opacity="0.43"/>
<circle cx="44.8" cy="16.1" r="0.91" fill="#666" opacity="0.79"/>
<circle cx="46.6" cy="16.1" r="0.70" fill="#4a4a4a" opacity="0.64"/>
<circle cx="53.7" cy="19.5" r="0.93" fill="#4a4a4a" opacity="0.61"/>
<circle cx="65.5" cy="22.7" r="0.77" fill="#3a3a3a" opacity="0.61"/>
<circle cx="62.0" cy="14.0" r="0.56" fill="#3a3a3a" opacity="0.49"/>
<circle cx="7.0" cy="1.7" r="0.73" fill="#555" opacity="0.48"/>
<circle cx="57.1" cy="24.4" r="0.59" fill="#555" opacity="0.70"/>
<circle cx="78.6" cy="21.0" r="0.65" fill="#555" opacity="0.62"/>
<circle cx="54.2" cy="25.3" r="0.89" fill="#4a4a4a" opacity="0.80"/>
<circle cx="53.5" cy="18.7" r="0.94" fill="#666" opacity="0.85"/>
<circle cx="45.0" cy="14.4" r="0.65" fill="#555" opacity="0.69"/>
<circle cx="44.5" cy="26.3" r="0.74" fill="#666" opacity="0.72"/>
<circle cx="65.6" cy="15.9" r="0.95" fill="#4a4a4a" opacity="0.76"/>
<circle cx="63.6" cy="8.9" r="0.48" fill="#555" opacity="0.66"/>
<circle cx="54.5" cy="17.1" r="0.72" fill="#4a4a4a" opacity="0.81"/>
<circle cx="59.2" cy="17.2" r="0.88" fill="#555" opacity="0.61"/>
<circle cx="48.7" cy="18.9" r="0.71" fill="#555" opacity="0.47"/>
<circle cx="67.1" cy="34.1" r="0.77" fill="#3a3a3a" opacity="0.51"/>
<circle cx="45.5" cy="33.3" r="0.66" fill="#555" opacity="0.54"/>
<circle cx="48.7" cy="30.4" r="0.60" fill="#3a3a3a" opacity="0.49"/>
<circle cx="39.2" cy="11.8" r="0.71" fill="#3a3a3a" opacity="0.69"/>
<circle cx="24.7" cy="10.9" r="0.46" fill="#4a4a4a" opacity="0.35"/>
<circle cx="57.6" cy="31.9" r="0.72" fill="#555" opacity="0.48"/>
<circle cx="57.4" cy="30.1" r="0.70" fill="#3a3a3a" opacity="0.45"/>
<circle cx="38.0" cy="50.0" r="1.11" fill="none" stroke="#808080" stroke-width="0.45" opacity="0.7"/>
<circle cx="33.4" cy="2.8" r="1.02" fill="none" stroke="#808080" stroke-width="0.45" opacity="0.7"/>
<circle cx="33.0" cy="45.0" r="0.95" fill="none" stroke="#808080" stroke-width="0.45" opacity="0.7"/>
<circle cx="36.7" cy="40.9" r="1.21" fill="none" stroke="#808080" stroke-width="0.45" opacity="0.7"/>
<circle cx="31.7" cy="24.3" r="1.09" fill="none" stroke="#808080" stroke-width="0.45" opacity="0.7"/>
<circle cx="83.1" cy="12.1" r="1.29" fill="none" stroke="#808080" stroke-width="0.45" opacity="0.7"/>
<circle cx="64.0" cy="23.5" r="1.13" fill="none" stroke="#808080" stroke-width="0.45" opacity="0.7"/>
<circle cx="29.6" cy="4.5" r="1.18" fill="none" stroke="#808080" stroke-width="0.45" opacity="0.7"/>
<circle cx="34.1" cy="33.2" r="1.05" fill="none" stroke="#808080" stroke-width="0.45" opacity="0.7"/>
<circle cx="81.0" cy="47.8" r="0.81" fill="none" stroke="#808080" stroke-width="0.45" opacity="0.7"/>
<circle cx="53.3" cy="29.2" r="1.03" fill="none" stroke="#808080" stroke-width="0.45" opacity="0.7"/>
<circle cx="75.5" cy="26.2" r="1.04" fill="none" stroke="#808080" stroke-width="0.45" opacity="0.7"/>
<circle cx="80.0" cy="27.8" r="1.05" fill="none" stroke="#808080" stroke-width="0.45" opacity="0.7"/>
<circle cx="46.0" cy="52.0" r="1.14" fill="none" stroke="#808080" stroke-width="0.45" opacity="0.7"/>
<circle cx="66.6" cy="25.3" r="0.82" fill="none" stroke="#808080" stroke-width="0.45" opacity="0.7"/>
<circle cx="61.1" cy="34.9" r="1.18" fill="none" stroke="#808080" stroke-width="0.45" opacity="0.7"/>
<circle cx="69.2" cy="7.5" r="0.91" fill="none" stroke="#808080" stroke-width="0.45" opacity="0.7"/>
<circle cx="6.9" cy="51.6" r="0.85" fill="none" stroke="#808080" stroke-width="0.45" opacity="0.7"/>
<circle cx="7.9" cy="47.5" r="1.08" fill="none" stroke="#808080" stroke-width="0.45" opacity="0.7"/>
<circle cx="4.9" cy="43.0" r="1.16" fill="none" stroke="#808080" stroke-width="0.45" opacity="0.7"/>
<circle cx="43.4" cy="3.5" r="1.15" fill="none" stroke="#808080" stroke-width="0.45" opacity="0.7"/>
<circle cx="37.6" cy="36.8" r="1.30" fill="none" stroke="#808080" stroke-width="0.45" opacity="0.7"/>
<circle cx="73.4" cy="55.0" r="0.87" fill="none" stroke="#808080" stroke-width="0.45" opacity="0.7"/>
<circle cx="30.1" cy="32.7" r="0.80" fill="none" stroke="#808080" stroke-width="0.45" opacity="0.7"/>
<circle cx="88.9" cy="17.3" r="0.93" fill="none" stroke="#808080" stroke-width="0.45" opacity="0.7"/>
<circle cx="28.1" cy="16.1" r="1.23" fill="none" stroke="#808080" stroke-width="0.45" opacity="0.7"/>
<circle cx="50.0" cy="32.2" r="1.01" fill="none" stroke="#808080" stroke-width="0.45" opacity="0.7"/>
<circle cx="4.6" cy="19.2" r="1.23" fill="none" stroke="#808080" stroke-width="0.45" opacity="0.7"/>
<circle cx="72.1" cy="54.1" r="0.93" fill="none" stroke="#808080" stroke-width="0.45" opacity="0.7"/>
<circle cx="18.2" cy="3.3" r="1.07" fill="none" stroke="#808080" stroke-width="0.45" opacity="0.7"/>
<circle cx="33.6" cy="29.3" r="1.04" fill="none" stroke="#808080" stroke-width="0.45" opacity="0.7"/>
<circle cx="52.5" cy="23.1" r="1.20" fill="none" stroke="#808080" stroke-width="0.45" opacity="0.7"/>
<circle cx="18.0" cy="58.0" r="1.08" fill="none" stroke="#808080" stroke-width="0.45" opacity="0.7"/>
<circle cx="4.6" cy="19.8" r="1.07" fill="none" stroke="#808080" stroke-width="0.45" opacity="0.7"/>
<circle cx="36.8" cy="35.6" r="0.96" fill="none" stroke="#808080" stroke-width="0.45" opacity="0.7"/>
<circle cx="24.6" cy="50.2" r="0.95" fill="none" stroke="#808080" stroke-width="0.45" opacity="0.7"/>
<circle cx="63.9" cy="50.6" r="1.10" fill="none" stroke="#808080" stroke-width="0.45" opacity="0.7"/>
<circle cx="40.9" cy="59.0" r="1.02" fill="none" stroke="#808080" stroke-width="0.45" opacity="0.7"/>
<circle cx="78.9" cy="3.6" r="1.02" fill="none" stroke="#808080" stroke-width="0.45" opacity="0.7"/>
<circle cx="57.5" cy="3.1" r="1.23" fill="none" stroke="#808080" stroke-width="0.45" opacity="0.7"/>
<circle cx="6.5" cy="37.6" r="0.89" fill="none" stroke="#808080" stroke-width="0.45" opacity="0.7"/>
<circle cx="82.9" cy="35.4" r="1.20" fill="none" stroke="#808080" stroke-width="0.45" opacity="0.7"/>
<circle cx="44.8" cy="42.5" r="1.14" fill="none" stroke="#808080" stroke-width="0.45" opacity="0.7"/>
<circle cx="26.5" cy="13.3" r="1.22" fill="none" stroke="#808080" stroke-width="0.45" opacity="0.7"/>
<circle cx="13.1" cy="57.9" r="0.90" fill="none" stroke="#808080" stroke-width="0.45" opacity="0.7"/>
<circle cx="9.1" cy="6.0" r="1.19" fill="none" stroke="#808080" stroke-width="0.45" opacity="0.7"/>
<circle cx="85.5" cy="26.2" r="1.13" fill="none" stroke="#808080" stroke-width="0.45" opacity="0.7"/>
<circle cx="23.2" cy="57.2" r="1.14" fill="none" stroke="#808080" stroke-width="0.45" opacity="0.7"/>
<circle cx="13.9" cy="3.6" r="1.15" fill="none" stroke="#808080" stroke-width="0.45" opacity="0.7"/>
<circle cx="3.8" cy="52.8" r="0.95" fill="none" stroke="#808080" stroke-width="0.45" opacity="0.7"/>
<circle cx="20.9" cy="36.7" r="0.96" fill="none" stroke="#808080" stroke-width="0.45" opacity="0.7"/>
<circle cx="50.4" cy="9.7" r="1.26" fill="none" stroke="#808080" stroke-width="0.45" opacity="0.7"/>
<circle cx="29.2" cy="53.1" r="0.88" fill="none" stroke="#808080" stroke-width="0.45" opacity="0.7"/>
<circle cx="71.9" cy="61.8" r="1.00" fill="none" stroke="#808080" stroke-width="0.45" opacity="0.7"/>
<circle cx="3.0" cy="24.0" r="1.12" fill="none" stroke="#808080" stroke-width="0.45" opacity="0.7"/>
<circle cx="20.1" cy="34.4" r="0.85" fill="none" stroke="#808080" stroke-width="0.45" opacity="0.7"/>
<circle cx="41.8" cy="46.0" r="1.01" fill="none" stroke="#808080" stroke-width="0.45" opacity="0.7"/>
<circle cx="61.0" cy="7.2" r="1.21" fill="none" stroke="#808080" stroke-width="0.45" opacity="0.7"/>
<circle cx="11.0" cy="58.3" r="1.30" fill="none" stroke="#808080" stroke-width="0.45" opacity="0.7"/>
<circle cx="84.5" cy="33.2" r="0.95" fill="none" stroke="#808080" stroke-width="0.45" opacity="0.7"/>
<circle cx="31.3" cy="47.3" r="1.05" fill="none" stroke="#808080" stroke-width="0.45" opacity="0.7"/>
<circle cx="83.6" cy="5.9" r="1.04" fill="none" stroke="#808080" stroke-width="0.45" opacity="0.7"/>
<circle cx="77.7" cy="37.7" r="1.07" fill="none" stroke="#808080" stroke-width="0.45" opacity="0.7"/>
<circle cx="8.0" cy="8.8" r="0.94" fill="none" stroke="#808080" stroke-width="0.45" opacity="0.7"/>
<circle cx="80.3" cy="53.3" r="0.91" fill="none" stroke="#808080" stroke-width="0.45" opacity="0.7"/>
<circle cx="83.1" cy="2.0" r="1.10" fill="none" stroke="#808080" stroke-width="0.45" opacity="0.7"/>
<circle cx="87.0" cy="21.7" r="1.27" fill="none" stroke="#808080" stroke-width="0.45" opacity="0.7"/>
<circle cx="59.0" cy="3.2" r="0.97" fill="none" stroke="#808080" stroke-width="0.45" opacity="0.7"/>
<circle cx="40.4" cy="15.6" r="1.17" fill="none" stroke="#808080" stroke-width="0.45" opacity="0.7"/>
<circle cx="16.1" cy="49.7" r="0.95" fill="none" stroke="#808080" stroke-width="0.45" opacity="0.7"/>
<circle cx="18.8" cy="52.4" r="1.2" fill="#1c1c1c"/>
</g>
<rect width="89.90" height="63.10" fill="#000" filter="url(#grain)" opacity="0.05"/>
</svg>
<text x="324.40" y="268.40" font-size="9.7" text-anchor="middle" textLength="48.20" lengthAdjust="spacingAndGlyphs" fill="#1a1a1a" transform="rotate(-90 324.40 268.40)" >CALM-AF10</text>
<text x="324.40" y="338.30" font-size="9.7" text-anchor="middle" textLength="39.40" lengthAdjust="spacingAndGlyphs" fill="#1a1a1a" transform="rotate(-90 324.40 338.30)" >MLL-AF10</text>
<text x="378.50" y="380.60" font-size="9.7" text-anchor="middle" textLength="25.20" lengthAdjust="spacingAndGlyphs" fill="#1a1a1a" >DMSO</text>
<text x="465.70" y="380.60" font-size="9.7" text-anchor="middle" textLength="47.60" lengthAdjust="spacingAndGlyphs" fill="#1a1a1a" >Atovaquone</text>
<polyline points="46.40,433.20 202.80,433.20 202.80,476.42 209.60,476.42 209.60,519.78 216.40,519.78 216.40,563.00" fill="none" stroke="#27497f" stroke-width="1.5" stroke-linejoin="miter"/>
<polyline points="46.40,433.20 114.40,433.20 114.40,459.16 141.60,459.16 141.60,485.12 175.60,485.12 175.60,511.08 189.20,511.08 189.20,563.00" fill="none" stroke="#b3062c" stroke-width="1.5" stroke-linejoin="miter"/>
<line x1="60.00" y1="430.40" x2="60.00" y2="433.50" stroke="#111" stroke-width="0.9" />
<line x1="73.60" y1="430.40" x2="73.60" y2="433.50" stroke="#111" stroke-width="0.9" />
<line x1="87.20" y1="430.40" x2="87.20" y2="433.50" stroke="#111" stroke-width="0.9" />
<line x1="100.80" y1="430.40" x2="100.80" y2="433.50" stroke="#111" stroke-width="0.9" />
<line x1="114.40" y1="430.40" x2="114.40" y2="433.50" stroke="#111" stroke-width="0.9" />
<line x1="141.60" y1="430.40" x2="141.60" y2="433.50" stroke="#111" stroke-width="0.9" />
<line x1="162.00" y1="430.40" x2="162.00" y2="433.50" stroke="#111" stroke-width="0.9" />
<line x1="114.40" y1="456.56" x2="114.40" y2="459.46" stroke="#111" stroke-width="0.9" />
<line x1="141.60" y1="482.52" x2="141.60" y2="485.42" stroke="#111" stroke-width="0.9" />
<line x1="175.60" y1="508.48" x2="175.60" y2="511.38" stroke="#111" stroke-width="0.9" />
<line x1="202.80" y1="473.82" x2="202.80" y2="476.72" stroke="#111" stroke-width="0.9" />
<line x1="209.60" y1="517.18" x2="209.60" y2="520.08" stroke="#111" stroke-width="0.9" />
<line x1="182.40" y1="508.48" x2="182.40" y2="511.08" stroke="#111" stroke-width="0.9" />
<line x1="46.40" y1="420.60" x2="46.40" y2="563.60" stroke="#111" stroke-width="1.3" />
<line x1="43.00" y1="563.00" x2="253.60" y2="563.00" stroke="#111" stroke-width="1.3" />
<line x1="43.00" y1="563.00" x2="46.40" y2="563.00" stroke="#111" stroke-width="1" />
<text x="39.70" y="565.90" font-size="9.5" text-anchor="end" textLength="5.20" lengthAdjust="spacingAndGlyphs" fill="#1a1a1a" >0</text>
<line x1="43.00" y1="537.04" x2="46.40" y2="537.04" stroke="#111" stroke-width="1" />
<text x="39.70" y="539.94" font-size="9.5" text-anchor="end" textLength="10.40" lengthAdjust="spacingAndGlyphs" fill="#1a1a1a" >20</text>
<line x1="43.00" y1="511.08" x2="46.40" y2="511.08" stroke="#111" stroke-width="1" />
<text x="39.70" y="513.98" font-size="9.5" text-anchor="end" textLength="10.40" lengthAdjust="spacingAndGlyphs" fill="#1a1a1a" >40</text>
<line x1="43.00" y1="485.12" x2="46.40" y2="485.12" stroke="#111" stroke-width="1" />
<text x="39.70" y="488.02" font-size="9.5" text-anchor="end" textLength="10.40" lengthAdjust="spacingAndGlyphs" fill="#1a1a1a" >60</text>
<line x1="43.00" y1="459.16" x2="46.40" y2="459.16" stroke="#111" stroke-width="1" />
<text x="39.70" y="462.06" font-size="9.5" text-anchor="end" textLength="10.40" lengthAdjust="spacingAndGlyphs" fill="#1a1a1a" >80</text>
<line x1="43.00" y1="433.20" x2="46.40" y2="433.20" stroke="#111" stroke-width="1" />
<text x="39.70" y="436.10" font-size="9.5" text-anchor="end" textLength="15.30" lengthAdjust="spacingAndGlyphs" fill="#1a1a1a" >100</text>
<line x1="46.40" y1="563.00" x2="46.40" y2="566.20" stroke="#111" stroke-width="1" />
<text x="46.40" y="578.00" font-size="9.8" text-anchor="middle" textLength="5.00" lengthAdjust="spacingAndGlyphs" fill="#1a1a1a" >0</text>
<line x1="80.40" y1="563.00" x2="80.40" y2="566.20" stroke="#111" stroke-width="1" />
<text x="80.40" y="578.00" font-size="9.8" text-anchor="middle" textLength="5.00" lengthAdjust="spacingAndGlyphs" fill="#1a1a1a" >5</text>
<line x1="114.40" y1="563.00" x2="114.40" y2="566.20" stroke="#111" stroke-width="1" />
<text x="114.40" y="578.00" font-size="9.8" text-anchor="middle" textLength="9.70" lengthAdjust="spacingAndGlyphs" fill="#1a1a1a" >10</text>
<line x1="148.40" y1="563.00" x2="148.40" y2="566.20" stroke="#111" stroke-width="1" />
<text x="148.40" y="578.00" font-size="9.8" text-anchor="middle" textLength="9.70" lengthAdjust="spacingAndGlyphs" fill="#1a1a1a" >15</text>
<line x1="182.40" y1="563.00" x2="182.40" y2="566.20" stroke="#111" stroke-width="1" />
<text x="182.40" y="578.00" font-size="9.8" text-anchor="middle" textLength="9.70" lengthAdjust="spacingAndGlyphs" fill="#1a1a1a" >20</text>
<line x1="216.40" y1="563.00" x2="216.40" y2="566.20" stroke="#111" stroke-width="1" />
<text x="216.40" y="578.00" font-size="9.8" text-anchor="middle" textLength="9.70" lengthAdjust="spacingAndGlyphs" fill="#1a1a1a" >25</text>
<line x1="250.40" y1="563.00" x2="250.40" y2="566.20" stroke="#111" stroke-width="1" />
<text x="250.40" y="578.00" font-size="9.8" text-anchor="middle" textLength="9.70" lengthAdjust="spacingAndGlyphs" fill="#1a1a1a" >30</text>
<text x="128.20" y="592.90" font-size="10.8" textLength="44.50" lengthAdjust="spacingAndGlyphs" fill="#1a1a1a" stroke="#1a1a1a" stroke-width="0.22">Time (days)</text>
<text x="17.90" y="491.40" font-size="10.6" text-anchor="middle" textLength="61.00" lengthAdjust="spacingAndGlyphs" fill="#1a1a1a" transform="rotate(-90 17.90 491.40)" stroke="#1a1a1a" stroke-width="0.22">Percent survival</text>
<text x="64.00" y="502.10" font-size="9.7" textLength="35.50" lengthAdjust="spacingAndGlyphs" fill="#1a1a1a" >Log Rank</text>
<text x="64.00" y="514.80" font-size="9.7" textLength="55.10" lengthAdjust="spacingAndGlyphs" fill="#1a1a1a" >P-value = 0.03</text>
<line x1="70.00" y1="533.30" x2="80.80" y2="533.30" stroke="#b3062c" stroke-width="1.4" />
<line x1="75.40" y1="530.60" x2="75.40" y2="533.30" stroke="#111" stroke-width="0.9" />
<line x1="70.00" y1="546.30" x2="80.80" y2="546.30" stroke="#27497f" stroke-width="1.4" />
<line x1="75.40" y1="543.60" x2="75.40" y2="546.30" stroke="#111" stroke-width="0.9" />
<text x="84.50" y="536.50" font-size="9.7" textLength="26.80" lengthAdjust="spacingAndGlyphs" fill="#1a1a1a" >Vehicle</text>
<text x="84.50" y="549.50" font-size="9.7" textLength="30.50" lengthAdjust="spacingAndGlyphs" fill="#1a1a1a" >Mepron</text>
<text x="163.00" y="552.70" font-size="9.7" textLength="15.00" lengthAdjust="spacingAndGlyphs" fill="#1a1a1a" >n=5</text>
<text x="194.50" y="552.70" font-size="9.7" textLength="14.80" lengthAdjust="spacingAndGlyphs" fill="#1a1a1a" >n=5</text>
<rect x="0" y="0" width="520" height="1" fill="#000"/>
<rect x="0" y="0" width="1.3" height="604" fill="#000"/>
<rect x="518.7" y="0" width="1.3" height="604" fill="#000"/>
<rect x="0" y="602.1" width="520" height="1.9" fill="#000"/>
</svg>
</body></html>
